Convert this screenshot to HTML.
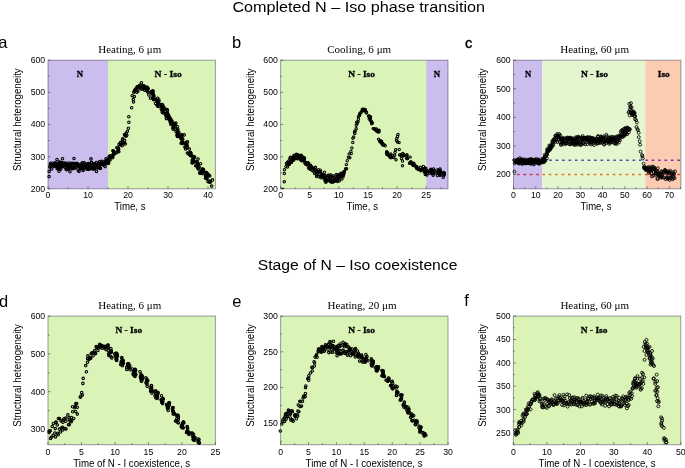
<!DOCTYPE html>
<html><head><meta charset="utf-8"><style>
html,body{margin:0;padding:0;background:#fff;overflow:hidden}
svg{display:block;will-change:transform}
text{fill:#000}
</style></head><body>
<svg width="685" height="468" viewBox="0 0 685 468">
<rect width="685" height="468" fill="#fff"/>
<text x="232.4" y="12.2" font-size="15.3" font-family="'Liberation Sans', sans-serif" textLength="252.6" lengthAdjust="spacingAndGlyphs">Completed N – Iso phase transition</text>
<text x="257.8" y="269.6" font-size="15.3" font-family="'Liberation Sans', sans-serif" textLength="199.6" lengthAdjust="spacingAndGlyphs">Stage of N – Iso coexistence</text>
<text x="-1.7" y="47.8" font-size="16.5" font-family="'Liberation Sans', sans-serif">a</text>
<text x="232" y="47.8" font-size="16.5" font-family="'Liberation Sans', sans-serif">b</text>
<text x="465" y="47.9" font-size="14.6" font-family="'Liberation Sans', sans-serif" stroke="#000" stroke-width="0.45">c</text>
<text x="-1" y="307" font-size="16.5" font-family="'Liberation Sans', sans-serif">d</text>
<text x="232.2" y="307" font-size="16.5" font-family="'Liberation Sans', sans-serif">e</text>
<text x="464.3" y="306.4" font-size="16.5" font-family="'Liberation Sans', sans-serif">f</text>
<rect x="48" y="60.2" width="60" height="128.6" fill="#cbbeee"/>
<rect x="108" y="60.2" width="107.4" height="128.6" fill="#daf4b8"/>
<path d="M48 188.8v-2.5M68 188.8v-1.5M88 188.8v-2.5M108 188.8v-1.5M128 188.8v-2.5M148 188.8v-1.5M168 188.8v-2.5M188 188.8v-1.5M208 188.8v-2.5M48 188.8h2.5M48 172.7h1.5M48 156.7h2.5M48 140.6h1.5M48 124.5h2.5M48 108.4h1.5M48 92.4h2.5M48 76.3h1.5M48 60.2h2.5" stroke="#555" stroke-width="0.7" fill="none"/>
<g fill="none" stroke="#000" stroke-width="1.1"><circle cx="57.0" cy="159.5" r="1.25"/><circle cx="62.5" cy="158.8" r="1.25"/><circle cx="74.0" cy="158.5" r="1.25"/><circle cx="70.0" cy="171.8" r="1.25"/><circle cx="59.0" cy="171.3" r="1.25"/><circle cx="79.0" cy="171.5" r="1.25"/><circle cx="96.5" cy="171.5" r="1.25"/><circle cx="91.0" cy="158.9" r="1.25"/><circle cx="49.1" cy="176.6" r="1.25"/><circle cx="49.2" cy="171.4" r="1.25"/><circle cx="51.6" cy="168.9" r="1.25"/><circle cx="51.1" cy="165.1" r="1.25"/><circle cx="50.0" cy="166.8" r="1.25"/><circle cx="49.9" cy="167.0" r="1.25"/><circle cx="50.3" cy="164.2" r="1.25"/><circle cx="50.7" cy="163.2" r="1.25"/><circle cx="52.1" cy="165.5" r="1.25"/><circle cx="52.5" cy="165.1" r="1.25"/><circle cx="52.4" cy="163.3" r="1.25"/><circle cx="54.3" cy="164.9" r="1.25"/><circle cx="54.4" cy="163.4" r="1.25"/><circle cx="53.9" cy="165.1" r="1.25"/><circle cx="54.2" cy="166.5" r="1.25"/><circle cx="55.3" cy="165.5" r="1.25"/><circle cx="56.8" cy="165.8" r="1.25"/><circle cx="55.1" cy="164.6" r="1.25"/><circle cx="56.1" cy="165.5" r="1.25"/><circle cx="57.1" cy="166.7" r="1.25"/><circle cx="55.5" cy="162.8" r="1.25"/><circle cx="55.7" cy="165.8" r="1.25"/><circle cx="57.8" cy="163.5" r="1.25"/><circle cx="57.6" cy="168.1" r="1.25"/><circle cx="57.2" cy="168.7" r="1.25"/><circle cx="57.2" cy="166.2" r="1.25"/><circle cx="59.4" cy="168.6" r="1.25"/><circle cx="58.5" cy="168.4" r="1.25"/><circle cx="57.4" cy="164.8" r="1.25"/><circle cx="60.0" cy="162.8" r="1.25"/><circle cx="59.8" cy="167.0" r="1.25"/><circle cx="59.4" cy="162.0" r="1.25"/><circle cx="60.1" cy="162.2" r="1.25"/><circle cx="59.8" cy="165.6" r="1.25"/><circle cx="62.6" cy="164.6" r="1.25"/><circle cx="60.9" cy="164.9" r="1.25"/><circle cx="60.8" cy="169.1" r="1.25"/><circle cx="60.3" cy="162.7" r="1.25"/><circle cx="60.6" cy="163.1" r="1.25"/><circle cx="62.9" cy="162.8" r="1.25"/><circle cx="61.7" cy="164.9" r="1.25"/><circle cx="61.4" cy="162.7" r="1.25"/><circle cx="63.7" cy="165.5" r="1.25"/><circle cx="62.3" cy="165.1" r="1.25"/><circle cx="62.0" cy="166.6" r="1.25"/><circle cx="63.7" cy="166.1" r="1.25"/><circle cx="63.2" cy="166.3" r="1.25"/><circle cx="64.4" cy="165.1" r="1.25"/><circle cx="63.5" cy="165.5" r="1.25"/><circle cx="66.0" cy="164.0" r="1.25"/><circle cx="65.1" cy="167.6" r="1.25"/><circle cx="65.3" cy="164.6" r="1.25"/><circle cx="65.2" cy="163.8" r="1.25"/><circle cx="65.3" cy="163.0" r="1.25"/><circle cx="68.0" cy="166.6" r="1.25"/><circle cx="66.3" cy="169.7" r="1.25"/><circle cx="67.2" cy="166.6" r="1.25"/><circle cx="68.0" cy="165.5" r="1.25"/><circle cx="66.8" cy="168.5" r="1.25"/><circle cx="67.7" cy="168.2" r="1.25"/><circle cx="68.1" cy="169.4" r="1.25"/><circle cx="68.5" cy="163.0" r="1.25"/><circle cx="70.3" cy="164.3" r="1.25"/><circle cx="68.9" cy="167.4" r="1.25"/><circle cx="70.7" cy="163.3" r="1.25"/><circle cx="70.8" cy="167.0" r="1.25"/><circle cx="69.9" cy="166.2" r="1.25"/><circle cx="71.6" cy="163.7" r="1.25"/><circle cx="72.9" cy="167.9" r="1.25"/><circle cx="69.6" cy="164.4" r="1.25"/><circle cx="71.6" cy="167.2" r="1.25"/><circle cx="69.8" cy="168.2" r="1.25"/><circle cx="72.0" cy="168.3" r="1.25"/><circle cx="71.1" cy="166.5" r="1.25"/><circle cx="71.2" cy="167.3" r="1.25"/><circle cx="73.6" cy="167.9" r="1.25"/><circle cx="72.5" cy="168.8" r="1.25"/><circle cx="73.0" cy="163.3" r="1.25"/><circle cx="76.2" cy="167.2" r="1.25"/><circle cx="74.4" cy="163.7" r="1.25"/><circle cx="74.3" cy="163.5" r="1.25"/><circle cx="75.1" cy="168.1" r="1.25"/><circle cx="75.4" cy="165.0" r="1.25"/><circle cx="73.7" cy="164.1" r="1.25"/><circle cx="75.5" cy="163.5" r="1.25"/><circle cx="75.1" cy="165.6" r="1.25"/><circle cx="76.8" cy="163.8" r="1.25"/><circle cx="77.0" cy="163.8" r="1.25"/><circle cx="77.5" cy="165.3" r="1.25"/><circle cx="76.9" cy="163.4" r="1.25"/><circle cx="77.7" cy="164.6" r="1.25"/><circle cx="79.9" cy="167.5" r="1.25"/><circle cx="79.3" cy="165.8" r="1.25"/><circle cx="79.1" cy="166.5" r="1.25"/><circle cx="78.1" cy="164.6" r="1.25"/><circle cx="80.6" cy="169.0" r="1.25"/><circle cx="81.3" cy="168.1" r="1.25"/><circle cx="78.2" cy="170.2" r="1.25"/><circle cx="81.3" cy="168.2" r="1.25"/><circle cx="80.9" cy="164.1" r="1.25"/><circle cx="81.1" cy="168.1" r="1.25"/><circle cx="81.3" cy="165.4" r="1.25"/><circle cx="83.2" cy="166.6" r="1.25"/><circle cx="81.6" cy="167.7" r="1.25"/><circle cx="83.1" cy="169.0" r="1.25"/><circle cx="82.3" cy="167.0" r="1.25"/><circle cx="82.6" cy="168.3" r="1.25"/><circle cx="82.4" cy="162.9" r="1.25"/><circle cx="85.0" cy="164.1" r="1.25"/><circle cx="83.2" cy="165.9" r="1.25"/><circle cx="83.1" cy="170.4" r="1.25"/><circle cx="84.2" cy="162.7" r="1.25"/><circle cx="85.1" cy="164.4" r="1.25"/><circle cx="86.3" cy="166.7" r="1.25"/><circle cx="86.9" cy="169.3" r="1.25"/><circle cx="87.6" cy="165.2" r="1.25"/><circle cx="84.6" cy="167.3" r="1.25"/><circle cx="87.3" cy="168.2" r="1.25"/><circle cx="86.1" cy="167.3" r="1.25"/><circle cx="87.2" cy="164.7" r="1.25"/><circle cx="87.2" cy="166.5" r="1.25"/><circle cx="88.1" cy="169.2" r="1.25"/><circle cx="87.9" cy="163.9" r="1.25"/><circle cx="86.2" cy="165.0" r="1.25"/><circle cx="89.2" cy="165.3" r="1.25"/><circle cx="88.4" cy="163.6" r="1.25"/><circle cx="91.4" cy="162.9" r="1.25"/><circle cx="88.3" cy="168.7" r="1.25"/><circle cx="88.6" cy="167.3" r="1.25"/><circle cx="91.2" cy="168.2" r="1.25"/><circle cx="89.9" cy="164.0" r="1.25"/><circle cx="90.3" cy="168.2" r="1.25"/><circle cx="89.6" cy="169.0" r="1.25"/><circle cx="91.5" cy="162.4" r="1.25"/><circle cx="90.8" cy="168.4" r="1.25"/><circle cx="91.6" cy="167.6" r="1.25"/><circle cx="91.0" cy="166.1" r="1.25"/><circle cx="93.0" cy="169.1" r="1.25"/><circle cx="93.5" cy="163.9" r="1.25"/><circle cx="92.9" cy="164.7" r="1.25"/><circle cx="93.3" cy="168.6" r="1.25"/><circle cx="94.0" cy="167.1" r="1.25"/><circle cx="95.1" cy="163.8" r="1.25"/><circle cx="94.8" cy="168.4" r="1.25"/><circle cx="94.3" cy="166.4" r="1.25"/><circle cx="94.2" cy="165.8" r="1.25"/><circle cx="94.1" cy="168.8" r="1.25"/><circle cx="94.2" cy="167.0" r="1.25"/><circle cx="95.0" cy="167.4" r="1.25"/><circle cx="97.8" cy="168.0" r="1.25"/><circle cx="96.4" cy="165.4" r="1.25"/><circle cx="96.8" cy="167.2" r="1.25"/><circle cx="96.2" cy="167.2" r="1.25"/><circle cx="98.5" cy="167.6" r="1.25"/><circle cx="96.2" cy="166.7" r="1.25"/><circle cx="96.4" cy="162.5" r="1.25"/><circle cx="99.6" cy="165.2" r="1.25"/><circle cx="98.1" cy="166.6" r="1.25"/><circle cx="98.3" cy="163.6" r="1.25"/><circle cx="98.7" cy="164.1" r="1.25"/><circle cx="98.5" cy="165.3" r="1.25"/><circle cx="99.7" cy="167.4" r="1.25"/><circle cx="100.5" cy="168.4" r="1.25"/><circle cx="99.7" cy="161.6" r="1.25"/><circle cx="99.7" cy="164.7" r="1.25"/><circle cx="100.4" cy="164.3" r="1.25"/><circle cx="103.0" cy="164.1" r="1.25"/><circle cx="100.9" cy="162.8" r="1.25"/><circle cx="102.0" cy="161.3" r="1.25"/><circle cx="104.0" cy="163.8" r="1.25"/><circle cx="102.0" cy="162.6" r="1.25"/><circle cx="103.2" cy="165.0" r="1.25"/><circle cx="102.4" cy="164.2" r="1.25"/><circle cx="105.1" cy="166.6" r="1.25"/><circle cx="103.4" cy="162.2" r="1.25"/><circle cx="103.7" cy="164.7" r="1.25"/><circle cx="105.4" cy="161.5" r="1.25"/><circle cx="104.9" cy="162.7" r="1.25"/><circle cx="105.2" cy="164.0" r="1.25"/><circle cx="105.7" cy="162.0" r="1.25"/><circle cx="104.7" cy="162.5" r="1.25"/><circle cx="104.3" cy="163.5" r="1.25"/><circle cx="106.5" cy="160.1" r="1.25"/><circle cx="106.0" cy="158.8" r="1.25"/><circle cx="107.4" cy="161.9" r="1.25"/><circle cx="107.8" cy="160.0" r="1.25"/><circle cx="108.5" cy="162.5" r="1.25"/><circle cx="108.6" cy="163.2" r="1.25"/><circle cx="108.0" cy="163.2" r="1.25"/><circle cx="109.4" cy="159.6" r="1.25"/><circle cx="109.9" cy="157.4" r="1.25"/><circle cx="110.0" cy="155.9" r="1.25"/><circle cx="110.0" cy="160.0" r="1.25"/><circle cx="109.0" cy="156.9" r="1.25"/><circle cx="112.2" cy="156.8" r="1.25"/><circle cx="113.1" cy="154.3" r="1.25"/><circle cx="111.5" cy="156.5" r="1.25"/><circle cx="112.6" cy="157.7" r="1.25"/><circle cx="113.5" cy="151.1" r="1.25"/><circle cx="113.7" cy="153.3" r="1.25"/><circle cx="113.8" cy="152.1" r="1.25"/><circle cx="112.8" cy="156.4" r="1.25"/><circle cx="114.2" cy="153.8" r="1.25"/><circle cx="114.3" cy="154.0" r="1.25"/><circle cx="112.9" cy="150.7" r="1.25"/><circle cx="116.0" cy="153.0" r="1.25"/><circle cx="116.8" cy="147.8" r="1.25"/><circle cx="117.0" cy="152.1" r="1.25"/><circle cx="118.1" cy="148.4" r="1.25"/><circle cx="118.2" cy="148.0" r="1.25"/><circle cx="118.8" cy="151.8" r="1.25"/><circle cx="118.3" cy="150.6" r="1.25"/><circle cx="118.7" cy="149.1" r="1.25"/><circle cx="119.0" cy="144.4" r="1.25"/><circle cx="120.7" cy="144.0" r="1.25"/><circle cx="120.5" cy="144.9" r="1.25"/><circle cx="121.6" cy="144.2" r="1.25"/><circle cx="120.6" cy="142.4" r="1.25"/><circle cx="122.6" cy="139.9" r="1.25"/><circle cx="122.2" cy="145.7" r="1.25"/><circle cx="122.8" cy="143.1" r="1.25"/><circle cx="122.7" cy="138.9" r="1.25"/><circle cx="124.4" cy="142.8" r="1.25"/><circle cx="125.2" cy="143.9" r="1.25"/><circle cx="124.6" cy="140.3" r="1.25"/><circle cx="124.9" cy="135.5" r="1.25"/><circle cx="126.0" cy="136.3" r="1.25"/><circle cx="124.6" cy="134.6" r="1.25"/><circle cx="126.4" cy="133.1" r="1.25"/><circle cx="126.8" cy="135.2" r="1.25"/><circle cx="127.4" cy="131.3" r="1.25"/><circle cx="128.4" cy="128.3" r="1.25"/><circle cx="128.9" cy="122.2" r="1.25"/><circle cx="128.8" cy="116.8" r="1.25"/><circle cx="131.6" cy="107.7" r="1.25"/><circle cx="133.5" cy="101.9" r="1.25"/><circle cx="133.3" cy="99.6" r="1.25"/><circle cx="132.2" cy="95.8" r="1.25"/><circle cx="133.8" cy="92.3" r="1.25"/><circle cx="134.3" cy="96.6" r="1.25"/><circle cx="134.8" cy="91.1" r="1.25"/><circle cx="135.0" cy="90.3" r="1.25"/><circle cx="134.4" cy="91.0" r="1.25"/><circle cx="136.7" cy="89.9" r="1.25"/><circle cx="137.9" cy="91.3" r="1.25"/><circle cx="135.4" cy="89.0" r="1.25"/><circle cx="136.8" cy="92.3" r="1.25"/><circle cx="135.6" cy="90.4" r="1.25"/><circle cx="137.2" cy="86.7" r="1.25"/><circle cx="137.3" cy="87.0" r="1.25"/><circle cx="140.1" cy="88.1" r="1.25"/><circle cx="139.4" cy="86.0" r="1.25"/><circle cx="139.0" cy="86.1" r="1.25"/><circle cx="139.6" cy="86.8" r="1.25"/><circle cx="138.8" cy="87.2" r="1.25"/><circle cx="140.2" cy="85.0" r="1.25"/><circle cx="141.4" cy="88.9" r="1.25"/><circle cx="142.0" cy="86.2" r="1.25"/><circle cx="143.0" cy="87.2" r="1.25"/><circle cx="141.4" cy="82.7" r="1.25"/><circle cx="141.6" cy="89.0" r="1.25"/><circle cx="143.3" cy="86.0" r="1.25"/><circle cx="143.8" cy="85.7" r="1.25"/><circle cx="144.0" cy="86.3" r="1.25"/><circle cx="143.5" cy="88.1" r="1.25"/><circle cx="144.6" cy="90.3" r="1.25"/><circle cx="144.5" cy="86.8" r="1.25"/><circle cx="144.1" cy="87.5" r="1.25"/><circle cx="144.8" cy="87.7" r="1.25"/><circle cx="143.8" cy="88.6" r="1.25"/><circle cx="146.5" cy="87.3" r="1.25"/><circle cx="146.6" cy="90.6" r="1.25"/><circle cx="147.3" cy="87.2" r="1.25"/><circle cx="147.3" cy="89.5" r="1.25"/><circle cx="146.2" cy="89.7" r="1.25"/><circle cx="146.5" cy="87.8" r="1.25"/><circle cx="147.7" cy="89.6" r="1.25"/><circle cx="147.2" cy="90.0" r="1.25"/><circle cx="147.9" cy="92.1" r="1.25"/><circle cx="147.0" cy="88.1" r="1.25"/><circle cx="148.9" cy="95.0" r="1.25"/><circle cx="148.2" cy="88.5" r="1.25"/><circle cx="147.8" cy="91.5" r="1.25"/><circle cx="151.7" cy="91.5" r="1.25"/><circle cx="150.4" cy="98.1" r="1.25"/><circle cx="152.8" cy="90.8" r="1.25"/><circle cx="153.0" cy="91.2" r="1.25"/><circle cx="151.6" cy="92.4" r="1.25"/><circle cx="153.7" cy="96.2" r="1.25"/><circle cx="152.0" cy="93.9" r="1.25"/><circle cx="153.5" cy="99.6" r="1.25"/><circle cx="153.1" cy="94.3" r="1.25"/><circle cx="151.1" cy="92.3" r="1.25"/><circle cx="153.1" cy="93.3" r="1.25"/><circle cx="153.9" cy="95.8" r="1.25"/><circle cx="155.2" cy="99.4" r="1.25"/><circle cx="153.4" cy="97.0" r="1.25"/><circle cx="153.2" cy="98.2" r="1.25"/><circle cx="153.0" cy="97.9" r="1.25"/><circle cx="153.6" cy="99.5" r="1.25"/><circle cx="153.6" cy="98.0" r="1.25"/><circle cx="156.8" cy="100.0" r="1.25"/><circle cx="157.3" cy="105.4" r="1.25"/><circle cx="159.5" cy="104.5" r="1.25"/><circle cx="158.0" cy="101.8" r="1.25"/><circle cx="158.9" cy="100.0" r="1.25"/><circle cx="157.4" cy="105.2" r="1.25"/><circle cx="156.9" cy="100.7" r="1.25"/><circle cx="157.7" cy="98.2" r="1.25"/><circle cx="155.6" cy="103.4" r="1.25"/><circle cx="158.0" cy="103.2" r="1.25"/><circle cx="157.5" cy="106.1" r="1.25"/><circle cx="159.2" cy="104.5" r="1.25"/><circle cx="157.5" cy="101.1" r="1.25"/><circle cx="158.1" cy="104.2" r="1.25"/><circle cx="159.2" cy="106.6" r="1.25"/><circle cx="158.8" cy="101.8" r="1.25"/><circle cx="162.1" cy="104.5" r="1.25"/><circle cx="161.4" cy="106.2" r="1.25"/><circle cx="161.4" cy="109.6" r="1.25"/><circle cx="162.3" cy="112.4" r="1.25"/><circle cx="162.7" cy="110.0" r="1.25"/><circle cx="163.0" cy="107.3" r="1.25"/><circle cx="164.0" cy="107.8" r="1.25"/><circle cx="163.1" cy="111.1" r="1.25"/><circle cx="162.4" cy="107.2" r="1.25"/><circle cx="162.5" cy="107.3" r="1.25"/><circle cx="163.3" cy="112.9" r="1.25"/><circle cx="162.5" cy="111.2" r="1.25"/><circle cx="161.9" cy="104.5" r="1.25"/><circle cx="162.9" cy="109.4" r="1.25"/><circle cx="164.0" cy="109.6" r="1.25"/><circle cx="163.1" cy="105.9" r="1.25"/><circle cx="167.3" cy="109.8" r="1.25"/><circle cx="166.2" cy="109.3" r="1.25"/><circle cx="167.5" cy="113.1" r="1.25"/><circle cx="165.7" cy="115.2" r="1.25"/><circle cx="166.2" cy="113.6" r="1.25"/><circle cx="168.5" cy="115.1" r="1.25"/><circle cx="166.4" cy="113.1" r="1.25"/><circle cx="166.9" cy="114.1" r="1.25"/><circle cx="166.7" cy="118.7" r="1.25"/><circle cx="166.3" cy="118.1" r="1.25"/><circle cx="167.4" cy="110.6" r="1.25"/><circle cx="166.2" cy="114.6" r="1.25"/><circle cx="168.9" cy="118.0" r="1.25"/><circle cx="168.8" cy="116.0" r="1.25"/><circle cx="170.2" cy="120.3" r="1.25"/><circle cx="170.6" cy="118.9" r="1.25"/><circle cx="171.0" cy="122.8" r="1.25"/><circle cx="170.5" cy="122.6" r="1.25"/><circle cx="170.3" cy="119.0" r="1.25"/><circle cx="169.9" cy="120.3" r="1.25"/><circle cx="170.9" cy="124.5" r="1.25"/><circle cx="169.8" cy="118.3" r="1.25"/><circle cx="172.0" cy="121.7" r="1.25"/><circle cx="172.0" cy="124.3" r="1.25"/><circle cx="170.1" cy="121.2" r="1.25"/><circle cx="169.0" cy="116.6" r="1.25"/><circle cx="171.8" cy="120.9" r="1.25"/><circle cx="173.2" cy="129.3" r="1.25"/><circle cx="173.7" cy="126.3" r="1.25"/><circle cx="172.9" cy="127.9" r="1.25"/><circle cx="173.5" cy="127.1" r="1.25"/><circle cx="174.9" cy="124.1" r="1.25"/><circle cx="175.9" cy="123.0" r="1.25"/><circle cx="174.2" cy="123.5" r="1.25"/><circle cx="174.1" cy="127.6" r="1.25"/><circle cx="175.4" cy="124.5" r="1.25"/><circle cx="177.5" cy="126.8" r="1.25"/><circle cx="177.8" cy="129.3" r="1.25"/><circle cx="175.6" cy="129.3" r="1.25"/><circle cx="177.2" cy="134.9" r="1.25"/><circle cx="177.1" cy="130.2" r="1.25"/><circle cx="177.5" cy="136.5" r="1.25"/><circle cx="178.8" cy="132.3" r="1.25"/><circle cx="178.2" cy="133.3" r="1.25"/><circle cx="177.6" cy="130.7" r="1.25"/><circle cx="179.4" cy="136.2" r="1.25"/><circle cx="177.6" cy="133.3" r="1.25"/><circle cx="177.5" cy="133.9" r="1.25"/><circle cx="176.0" cy="131.5" r="1.25"/><circle cx="178.3" cy="136.4" r="1.25"/><circle cx="177.1" cy="135.5" r="1.25"/><circle cx="181.8" cy="135.1" r="1.25"/><circle cx="182.6" cy="142.9" r="1.25"/><circle cx="181.8" cy="135.9" r="1.25"/><circle cx="181.1" cy="143.2" r="1.25"/><circle cx="180.9" cy="136.1" r="1.25"/><circle cx="184.2" cy="134.9" r="1.25"/><circle cx="181.1" cy="138.6" r="1.25"/><circle cx="182.5" cy="141.8" r="1.25"/><circle cx="181.3" cy="139.0" r="1.25"/><circle cx="182.8" cy="139.2" r="1.25"/><circle cx="182.0" cy="138.4" r="1.25"/><circle cx="181.8" cy="142.4" r="1.25"/><circle cx="181.4" cy="134.9" r="1.25"/><circle cx="182.3" cy="143.6" r="1.25"/><circle cx="181.9" cy="138.5" r="1.25"/><circle cx="185.6" cy="148.9" r="1.25"/><circle cx="184.9" cy="147.1" r="1.25"/><circle cx="186.5" cy="146.8" r="1.25"/><circle cx="186.9" cy="145.1" r="1.25"/><circle cx="187.4" cy="142.3" r="1.25"/><circle cx="187.0" cy="146.4" r="1.25"/><circle cx="185.7" cy="142.6" r="1.25"/><circle cx="185.4" cy="143.5" r="1.25"/><circle cx="187.4" cy="141.7" r="1.25"/><circle cx="185.7" cy="147.5" r="1.25"/><circle cx="187.2" cy="146.3" r="1.25"/><circle cx="186.7" cy="148.0" r="1.25"/><circle cx="185.4" cy="143.9" r="1.25"/><circle cx="189.3" cy="149.1" r="1.25"/><circle cx="190.4" cy="155.2" r="1.25"/><circle cx="188.9" cy="153.1" r="1.25"/><circle cx="190.5" cy="155.4" r="1.25"/><circle cx="190.8" cy="153.1" r="1.25"/><circle cx="189.4" cy="154.8" r="1.25"/><circle cx="190.5" cy="152.4" r="1.25"/><circle cx="191.2" cy="155.0" r="1.25"/><circle cx="190.7" cy="153.4" r="1.25"/><circle cx="187.4" cy="153.1" r="1.25"/><circle cx="191.6" cy="156.1" r="1.25"/><circle cx="192.2" cy="162.9" r="1.25"/><circle cx="192.3" cy="159.7" r="1.25"/><circle cx="193.3" cy="159.7" r="1.25"/><circle cx="192.4" cy="162.8" r="1.25"/><circle cx="193.8" cy="160.6" r="1.25"/><circle cx="193.0" cy="161.6" r="1.25"/><circle cx="194.6" cy="157.0" r="1.25"/><circle cx="194.0" cy="157.7" r="1.25"/><circle cx="193.7" cy="161.6" r="1.25"/><circle cx="194.0" cy="162.0" r="1.25"/><circle cx="194.0" cy="161.5" r="1.25"/><circle cx="193.8" cy="156.5" r="1.25"/><circle cx="192.3" cy="161.4" r="1.25"/><circle cx="197.9" cy="166.2" r="1.25"/><circle cx="197.8" cy="167.8" r="1.25"/><circle cx="197.0" cy="162.2" r="1.25"/><circle cx="196.9" cy="161.9" r="1.25"/><circle cx="197.3" cy="166.8" r="1.25"/><circle cx="198.0" cy="164.7" r="1.25"/><circle cx="195.7" cy="165.7" r="1.25"/><circle cx="198.0" cy="159.1" r="1.25"/><circle cx="196.7" cy="165.8" r="1.25"/><circle cx="197.8" cy="167.9" r="1.25"/><circle cx="199.0" cy="166.8" r="1.25"/><circle cx="197.5" cy="163.4" r="1.25"/><circle cx="200.5" cy="163.8" r="1.25"/><circle cx="198.4" cy="169.1" r="1.25"/><circle cx="199.9" cy="173.2" r="1.25"/><circle cx="202.1" cy="170.3" r="1.25"/><circle cx="200.6" cy="172.9" r="1.25"/><circle cx="200.7" cy="172.5" r="1.25"/><circle cx="201.0" cy="173.0" r="1.25"/><circle cx="200.0" cy="172.5" r="1.25"/><circle cx="203.7" cy="171.6" r="1.25"/><circle cx="202.7" cy="170.0" r="1.25"/><circle cx="203.6" cy="169.8" r="1.25"/><circle cx="200.6" cy="172.9" r="1.25"/><circle cx="200.7" cy="169.1" r="1.25"/><circle cx="202.7" cy="169.3" r="1.25"/><circle cx="202.8" cy="169.0" r="1.25"/><circle cx="202.7" cy="173.8" r="1.25"/><circle cx="202.1" cy="170.3" r="1.25"/><circle cx="200.3" cy="173.0" r="1.25"/><circle cx="203.5" cy="171.0" r="1.25"/><circle cx="202.8" cy="171.1" r="1.25"/><circle cx="205.5" cy="178.2" r="1.25"/><circle cx="207.1" cy="178.4" r="1.25"/><circle cx="207.9" cy="181.6" r="1.25"/><circle cx="206.5" cy="172.6" r="1.25"/><circle cx="204.4" cy="172.9" r="1.25"/><circle cx="205.7" cy="176.5" r="1.25"/><circle cx="208.7" cy="175.3" r="1.25"/><circle cx="208.1" cy="174.8" r="1.25"/><circle cx="207.9" cy="175.2" r="1.25"/><circle cx="205.7" cy="175.2" r="1.25"/><circle cx="206.4" cy="177.6" r="1.25"/><circle cx="206.1" cy="175.0" r="1.25"/><circle cx="209.7" cy="175.9" r="1.25"/><circle cx="208.1" cy="175.0" r="1.25"/><circle cx="207.8" cy="174.0" r="1.25"/><circle cx="207.0" cy="173.5" r="1.25"/><circle cx="210.1" cy="181.8" r="1.25"/><circle cx="209.7" cy="181.0" r="1.25"/><circle cx="209.3" cy="182.1" r="1.25"/><circle cx="211.6" cy="186.1" r="1.25"/><circle cx="210.6" cy="182.0" r="1.25"/><circle cx="212.5" cy="179.9" r="1.25"/></g>
<rect x="48" y="60.2" width="167.4" height="128.6" fill="none" stroke="rgba(40,36,60,0.45)" stroke-width="1.0"/>
<text x="48" y="198.2" font-size="8.7" font-family="'Liberation Sans', sans-serif" text-anchor="middle">0</text>
<text x="88" y="198.2" font-size="8.7" font-family="'Liberation Sans', sans-serif" text-anchor="middle">10</text>
<text x="128" y="198.2" font-size="8.7" font-family="'Liberation Sans', sans-serif" text-anchor="middle">20</text>
<text x="168" y="198.2" font-size="8.7" font-family="'Liberation Sans', sans-serif" text-anchor="middle">30</text>
<text x="208" y="198.2" font-size="8.7" font-family="'Liberation Sans', sans-serif" text-anchor="middle">40</text>
<text x="45.2" y="191.7" font-size="8.7" font-family="'Liberation Sans', sans-serif" text-anchor="end">200</text>
<text x="45.2" y="159.5" font-size="8.7" font-family="'Liberation Sans', sans-serif" text-anchor="end">300</text>
<text x="45.2" y="127.4" font-size="8.7" font-family="'Liberation Sans', sans-serif" text-anchor="end">400</text>
<text x="45.2" y="95.2" font-size="8.7" font-family="'Liberation Sans', sans-serif" text-anchor="end">500</text>
<text x="45.2" y="63.1" font-size="8.7" font-family="'Liberation Sans', sans-serif" text-anchor="end">600</text>
<text x="98.2" y="53.2" font-size="11" font-family="'Liberation Serif', serif" textLength="63.0" lengthAdjust="spacingAndGlyphs">Heating, 6 μm</text>
<text x="76.8" y="77.2" font-size="9.1" font-family="'Liberation Serif', serif" font-weight="bold" textLength="6.3" lengthAdjust="spacingAndGlyphs" stroke="#000" stroke-width="0.3">N</text>
<text x="154.6" y="77.2" font-size="9.1" font-family="'Liberation Serif', serif" font-weight="bold" textLength="27.2" lengthAdjust="spacingAndGlyphs" stroke="#000" stroke-width="0.3">N - Iso</text>
<text x="114.2" y="210" font-size="10.0" font-family="'Liberation Sans', sans-serif" textLength="31.4" lengthAdjust="spacingAndGlyphs">Time, s</text>
<text transform="translate(20.9,119.6) rotate(-90)" x="0" y="0" font-size="10.2" font-family="'Liberation Sans', sans-serif" text-anchor="middle" textLength="102.6" lengthAdjust="spacingAndGlyphs">Structural heterogeneity</text>
<rect x="280.6" y="60.2" width="145.6" height="128.6" fill="#daf4b8"/>
<rect x="426.2" y="60.2" width="21.8" height="128.6" fill="#cbbeee"/>
<path d="M280.6 188.8v-2.5M295.2 188.8v-1.5M309.7 188.8v-2.5M324.3 188.8v-1.5M338.8 188.8v-2.5M353.4 188.8v-1.5M368 188.8v-2.5M382.5 188.8v-1.5M397.1 188.8v-2.5M411.7 188.8v-1.5M426.2 188.8v-2.5M440.8 188.8v-1.5M280.6 188.8h2.5M280.6 172.7h1.5M280.6 156.7h2.5M280.6 140.6h1.5M280.6 124.5h2.5M280.6 108.4h1.5M280.6 92.4h2.5M280.6 76.3h1.5M280.6 60.2h2.5" stroke="#555" stroke-width="0.7" fill="none"/>
<g fill="none" stroke="#000" stroke-width="1.05"><circle cx="284.3" cy="181.8" r="1.2"/><circle cx="284.3" cy="173.5" r="1.2"/><circle cx="284.5" cy="169.8" r="1.2"/><circle cx="286.0" cy="166.5" r="1.2"/><circle cx="287.5" cy="167.0" r="1.2"/><circle cx="286.4" cy="163.4" r="1.2"/><circle cx="287.4" cy="162.3" r="1.2"/><circle cx="287.8" cy="163.4" r="1.2"/><circle cx="288.5" cy="164.0" r="1.2"/><circle cx="288.8" cy="161.0" r="1.2"/><circle cx="289.4" cy="164.4" r="1.2"/><circle cx="290.1" cy="157.9" r="1.2"/><circle cx="289.8" cy="161.8" r="1.2"/><circle cx="290.0" cy="159.2" r="1.2"/><circle cx="290.5" cy="157.3" r="1.2"/><circle cx="290.9" cy="161.5" r="1.2"/><circle cx="291.5" cy="162.4" r="1.2"/><circle cx="292.2" cy="159.7" r="1.2"/><circle cx="293.0" cy="157.1" r="1.2"/><circle cx="292.9" cy="158.6" r="1.2"/><circle cx="293.1" cy="160.4" r="1.2"/><circle cx="292.5" cy="159.6" r="1.2"/><circle cx="293.1" cy="157.0" r="1.2"/><circle cx="292.9" cy="160.5" r="1.2"/><circle cx="294.1" cy="155.1" r="1.2"/><circle cx="294.3" cy="157.6" r="1.2"/><circle cx="294.7" cy="158.6" r="1.2"/><circle cx="295.1" cy="157.1" r="1.2"/><circle cx="295.6" cy="156.5" r="1.2"/><circle cx="295.9" cy="155.0" r="1.2"/><circle cx="295.7" cy="157.7" r="1.2"/><circle cx="295.6" cy="158.8" r="1.2"/><circle cx="296.5" cy="154.1" r="1.2"/><circle cx="296.6" cy="158.3" r="1.2"/><circle cx="297.5" cy="155.1" r="1.2"/><circle cx="297.8" cy="154.8" r="1.2"/><circle cx="297.6" cy="158.7" r="1.2"/><circle cx="298.3" cy="155.4" r="1.2"/><circle cx="298.1" cy="156.7" r="1.2"/><circle cx="299.2" cy="157.4" r="1.2"/><circle cx="298.2" cy="157.0" r="1.2"/><circle cx="299.3" cy="156.2" r="1.2"/><circle cx="299.3" cy="157.3" r="1.2"/><circle cx="300.0" cy="159.2" r="1.2"/><circle cx="300.4" cy="158.7" r="1.2"/><circle cx="301.1" cy="159.1" r="1.2"/><circle cx="300.9" cy="155.4" r="1.2"/><circle cx="300.9" cy="155.6" r="1.2"/><circle cx="301.1" cy="155.3" r="1.2"/><circle cx="300.8" cy="159.9" r="1.2"/><circle cx="301.8" cy="160.9" r="1.2"/><circle cx="301.6" cy="158.3" r="1.2"/><circle cx="302.1" cy="159.9" r="1.2"/><circle cx="302.6" cy="159.7" r="1.2"/><circle cx="303.4" cy="160.3" r="1.2"/><circle cx="302.9" cy="156.9" r="1.2"/><circle cx="303.3" cy="158.3" r="1.2"/><circle cx="304.0" cy="160.0" r="1.2"/><circle cx="304.3" cy="159.9" r="1.2"/><circle cx="304.3" cy="157.7" r="1.2"/><circle cx="304.5" cy="158.9" r="1.2"/><circle cx="304.8" cy="162.5" r="1.2"/><circle cx="305.3" cy="163.9" r="1.2"/><circle cx="305.5" cy="163.1" r="1.2"/><circle cx="306.0" cy="163.5" r="1.2"/><circle cx="306.4" cy="164.4" r="1.2"/><circle cx="307.7" cy="164.5" r="1.2"/><circle cx="307.3" cy="162.8" r="1.2"/><circle cx="307.5" cy="162.7" r="1.2"/><circle cx="307.0" cy="162.8" r="1.2"/><circle cx="308.0" cy="166.0" r="1.2"/><circle cx="308.7" cy="163.1" r="1.2"/><circle cx="309.0" cy="168.2" r="1.2"/><circle cx="309.0" cy="168.5" r="1.2"/><circle cx="310.1" cy="168.2" r="1.2"/><circle cx="310.3" cy="169.3" r="1.2"/><circle cx="309.7" cy="166.6" r="1.2"/><circle cx="310.5" cy="165.3" r="1.2"/><circle cx="311.1" cy="166.8" r="1.2"/><circle cx="310.8" cy="166.3" r="1.2"/><circle cx="311.3" cy="166.6" r="1.2"/><circle cx="312.1" cy="170.6" r="1.2"/><circle cx="312.0" cy="168.5" r="1.2"/><circle cx="312.9" cy="168.8" r="1.2"/><circle cx="312.9" cy="168.3" r="1.2"/><circle cx="313.9" cy="169.4" r="1.2"/><circle cx="313.9" cy="171.8" r="1.2"/><circle cx="314.1" cy="168.2" r="1.2"/><circle cx="314.6" cy="173.6" r="1.2"/><circle cx="315.2" cy="169.8" r="1.2"/><circle cx="315.4" cy="167.3" r="1.2"/><circle cx="315.5" cy="170.0" r="1.2"/><circle cx="316.0" cy="172.2" r="1.2"/><circle cx="316.0" cy="172.2" r="1.2"/><circle cx="316.9" cy="174.7" r="1.2"/><circle cx="316.6" cy="176.6" r="1.2"/><circle cx="317.0" cy="175.1" r="1.2"/><circle cx="317.3" cy="171.3" r="1.2"/><circle cx="317.7" cy="172.1" r="1.2"/><circle cx="318.8" cy="176.7" r="1.2"/><circle cx="318.4" cy="169.7" r="1.2"/><circle cx="318.5" cy="171.4" r="1.2"/><circle cx="320.3" cy="170.2" r="1.2"/><circle cx="320.1" cy="171.7" r="1.2"/><circle cx="319.6" cy="172.7" r="1.2"/><circle cx="320.3" cy="176.3" r="1.2"/><circle cx="320.9" cy="172.7" r="1.2"/><circle cx="320.9" cy="177.7" r="1.2"/><circle cx="322.0" cy="175.4" r="1.2"/><circle cx="322.0" cy="174.6" r="1.2"/><circle cx="322.6" cy="175.5" r="1.2"/><circle cx="322.9" cy="176.5" r="1.2"/><circle cx="323.2" cy="177.9" r="1.2"/><circle cx="322.6" cy="176.9" r="1.2"/><circle cx="323.3" cy="175.0" r="1.2"/><circle cx="324.1" cy="175.4" r="1.2"/><circle cx="324.4" cy="172.2" r="1.2"/><circle cx="325.2" cy="175.6" r="1.2"/><circle cx="324.8" cy="178.5" r="1.2"/><circle cx="325.4" cy="180.5" r="1.2"/><circle cx="325.0" cy="180.7" r="1.2"/><circle cx="325.8" cy="178.1" r="1.2"/><circle cx="326.1" cy="178.8" r="1.2"/><circle cx="325.8" cy="182.2" r="1.2"/><circle cx="326.3" cy="181.2" r="1.2"/><circle cx="326.9" cy="180.7" r="1.2"/><circle cx="326.4" cy="180.1" r="1.2"/><circle cx="327.4" cy="179.6" r="1.2"/><circle cx="328.0" cy="175.9" r="1.2"/><circle cx="327.6" cy="177.4" r="1.2"/><circle cx="328.0" cy="175.3" r="1.2"/><circle cx="329.1" cy="175.3" r="1.2"/><circle cx="328.6" cy="179.2" r="1.2"/><circle cx="329.8" cy="181.3" r="1.2"/><circle cx="330.0" cy="178.2" r="1.2"/><circle cx="330.1" cy="176.8" r="1.2"/><circle cx="330.7" cy="176.5" r="1.2"/><circle cx="330.5" cy="180.8" r="1.2"/><circle cx="330.8" cy="174.9" r="1.2"/><circle cx="330.7" cy="181.5" r="1.2"/><circle cx="332.4" cy="178.2" r="1.2"/><circle cx="331.4" cy="182.1" r="1.2"/><circle cx="332.8" cy="182.2" r="1.2"/><circle cx="332.5" cy="178.0" r="1.2"/><circle cx="332.6" cy="178.5" r="1.2"/><circle cx="333.2" cy="175.6" r="1.2"/><circle cx="333.9" cy="177.2" r="1.2"/><circle cx="334.2" cy="177.3" r="1.2"/><circle cx="333.9" cy="181.2" r="1.2"/><circle cx="334.3" cy="180.2" r="1.2"/><circle cx="334.5" cy="180.6" r="1.2"/><circle cx="334.5" cy="181.4" r="1.2"/><circle cx="335.0" cy="179.7" r="1.2"/><circle cx="336.3" cy="178.3" r="1.2"/><circle cx="335.8" cy="180.1" r="1.2"/><circle cx="336.1" cy="180.5" r="1.2"/><circle cx="337.0" cy="179.4" r="1.2"/><circle cx="336.4" cy="174.4" r="1.2"/><circle cx="337.8" cy="174.9" r="1.2"/><circle cx="337.7" cy="176.6" r="1.2"/><circle cx="337.5" cy="181.6" r="1.2"/><circle cx="337.9" cy="180.2" r="1.2"/><circle cx="338.1" cy="176.1" r="1.2"/><circle cx="339.2" cy="178.0" r="1.2"/><circle cx="338.7" cy="175.0" r="1.2"/><circle cx="339.1" cy="175.6" r="1.2"/><circle cx="339.5" cy="180.8" r="1.2"/><circle cx="339.7" cy="177.9" r="1.2"/><circle cx="340.2" cy="176.6" r="1.2"/><circle cx="340.9" cy="173.3" r="1.2"/><circle cx="341.3" cy="176.0" r="1.2"/><circle cx="340.6" cy="176.7" r="1.2"/><circle cx="340.7" cy="176.5" r="1.2"/><circle cx="341.2" cy="173.6" r="1.2"/><circle cx="341.9" cy="179.0" r="1.2"/><circle cx="342.1" cy="174.7" r="1.2"/><circle cx="343.3" cy="175.4" r="1.2"/><circle cx="342.9" cy="176.9" r="1.2"/><circle cx="344.0" cy="173.6" r="1.2"/><circle cx="343.6" cy="174.5" r="1.2"/><circle cx="344.1" cy="171.8" r="1.2"/><circle cx="343.6" cy="172.4" r="1.2"/><circle cx="344.5" cy="171.1" r="1.2"/><circle cx="345.7" cy="168.8" r="1.2"/><circle cx="346.6" cy="168.7" r="1.2"/><circle cx="346.4" cy="164.6" r="1.2"/><circle cx="347.2" cy="160.7" r="1.2"/><circle cx="348.4" cy="157.2" r="1.2"/><circle cx="349.8" cy="157.8" r="1.2"/><circle cx="349.2" cy="153.9" r="1.2"/><circle cx="351.2" cy="153.6" r="1.2"/><circle cx="350.9" cy="151.5" r="1.2"/><circle cx="351.9" cy="148.0" r="1.2"/><circle cx="352.8" cy="142.5" r="1.2"/><circle cx="352.9" cy="138.2" r="1.2"/><circle cx="353.7" cy="136.9" r="1.2"/><circle cx="354.8" cy="133.4" r="1.2"/><circle cx="354.5" cy="131.9" r="1.2"/><circle cx="355.2" cy="131.0" r="1.2"/><circle cx="356.2" cy="128.8" r="1.2"/><circle cx="356.3" cy="125.3" r="1.2"/><circle cx="356.7" cy="122.1" r="1.2"/><circle cx="357.1" cy="123.7" r="1.2"/><circle cx="358.0" cy="121.8" r="1.2"/><circle cx="358.4" cy="119.2" r="1.2"/><circle cx="358.4" cy="116.6" r="1.2"/><circle cx="359.5" cy="114.8" r="1.2"/><circle cx="359.6" cy="115.6" r="1.2"/><circle cx="360.0" cy="113.1" r="1.2"/><circle cx="360.9" cy="112.8" r="1.2"/><circle cx="362.2" cy="110.5" r="1.2"/><circle cx="362.4" cy="109.2" r="1.2"/><circle cx="362.2" cy="110.8" r="1.2"/><circle cx="363.8" cy="109.1" r="1.2"/><circle cx="363.3" cy="110.7" r="1.2"/><circle cx="363.7" cy="110.2" r="1.2"/><circle cx="364.9" cy="109.4" r="1.2"/><circle cx="364.9" cy="110.4" r="1.2"/><circle cx="365.2" cy="109.6" r="1.2"/><circle cx="365.3" cy="111.0" r="1.2"/><circle cx="366.6" cy="112.1" r="1.2"/><circle cx="366.3" cy="112.9" r="1.2"/><circle cx="368.6" cy="116.2" r="1.2"/><circle cx="369.1" cy="116.2" r="1.2"/><circle cx="369.0" cy="116.0" r="1.2"/><circle cx="369.7" cy="117.9" r="1.2"/><circle cx="369.3" cy="119.2" r="1.2"/><circle cx="370.5" cy="116.8" r="1.2"/><circle cx="370.4" cy="118.5" r="1.2"/><circle cx="371.5" cy="122.0" r="1.2"/><circle cx="370.7" cy="120.8" r="1.2"/><circle cx="371.3" cy="121.6" r="1.2"/><circle cx="372.4" cy="122.9" r="1.2"/><circle cx="371.6" cy="123.7" r="1.2"/><circle cx="373.2" cy="128.6" r="1.2"/><circle cx="375.2" cy="129.3" r="1.2"/><circle cx="374.0" cy="128.6" r="1.2"/><circle cx="374.8" cy="129.5" r="1.2"/><circle cx="376.4" cy="128.9" r="1.2"/><circle cx="376.3" cy="130.7" r="1.2"/><circle cx="376.8" cy="131.0" r="1.2"/><circle cx="378.0" cy="131.4" r="1.2"/><circle cx="377.9" cy="131.8" r="1.2"/><circle cx="379.0" cy="130.3" r="1.2"/><circle cx="379.0" cy="131.9" r="1.2"/><circle cx="378.3" cy="131.8" r="1.2"/><circle cx="378.6" cy="139.2" r="1.2"/><circle cx="379.9" cy="140.5" r="1.2"/><circle cx="379.8" cy="141.8" r="1.2"/><circle cx="381.5" cy="141.2" r="1.2"/><circle cx="381.2" cy="141.5" r="1.2"/><circle cx="381.3" cy="142.3" r="1.2"/><circle cx="382.6" cy="143.2" r="1.2"/><circle cx="381.9" cy="143.8" r="1.2"/><circle cx="382.7" cy="144.7" r="1.2"/><circle cx="385.2" cy="145.7" r="1.2"/><circle cx="384.0" cy="144.6" r="1.2"/><circle cx="383.6" cy="145.2" r="1.2"/><circle cx="386.7" cy="151.7" r="1.2"/><circle cx="386.6" cy="152.2" r="1.2"/><circle cx="387.1" cy="154.5" r="1.2"/><circle cx="386.8" cy="153.0" r="1.2"/><circle cx="387.2" cy="154.6" r="1.2"/><circle cx="387.5" cy="152.8" r="1.2"/><circle cx="387.6" cy="152.9" r="1.2"/><circle cx="390.0" cy="157.1" r="1.2"/><circle cx="389.0" cy="155.8" r="1.2"/><circle cx="390.8" cy="154.0" r="1.2"/><circle cx="390.7" cy="155.2" r="1.2"/><circle cx="390.8" cy="157.7" r="1.2"/><circle cx="390.1" cy="156.4" r="1.2"/><circle cx="392.8" cy="155.7" r="1.2"/><circle cx="393.1" cy="157.5" r="1.2"/><circle cx="393.7" cy="157.3" r="1.2"/><circle cx="394.7" cy="155.2" r="1.2"/><circle cx="396.0" cy="159.8" r="1.2"/><circle cx="398.0" cy="134.5" r="1.2"/><circle cx="397.5" cy="136.5" r="1.2"/><circle cx="396.8" cy="138.5" r="1.2"/><circle cx="396.5" cy="140.5" r="1.2"/><circle cx="397.5" cy="142.0" r="1.2"/><circle cx="399.0" cy="142.5" r="1.2"/><circle cx="395.7" cy="149.8" r="1.2"/><circle cx="399.2" cy="149.5" r="1.2"/><circle cx="395.0" cy="152.3" r="1.2"/><circle cx="401.6" cy="156.1" r="1.2"/><circle cx="399.6" cy="155.0" r="1.2"/><circle cx="400.8" cy="154.7" r="1.2"/><circle cx="403.4" cy="154.6" r="1.2"/><circle cx="402.8" cy="153.5" r="1.2"/><circle cx="403.4" cy="155.9" r="1.2"/><circle cx="403.4" cy="155.1" r="1.2"/><circle cx="406.9" cy="154.7" r="1.2"/><circle cx="404.3" cy="155.3" r="1.2"/><circle cx="407.4" cy="158.7" r="1.2"/><circle cx="407.0" cy="155.7" r="1.2"/><circle cx="406.8" cy="157.9" r="1.2"/><circle cx="406.9" cy="158.4" r="1.2"/><circle cx="410.1" cy="157.1" r="1.2"/><circle cx="402.5" cy="161.0" r="1.2"/><circle cx="402.5" cy="165.8" r="1.2"/><circle cx="401.5" cy="158.5" r="1.2"/><circle cx="409.6" cy="163.2" r="1.2"/><circle cx="410.9" cy="161.8" r="1.2"/><circle cx="411.1" cy="162.6" r="1.2"/><circle cx="409.8" cy="163.2" r="1.2"/><circle cx="410.8" cy="162.4" r="1.2"/><circle cx="410.1" cy="162.7" r="1.2"/><circle cx="413.3" cy="165.5" r="1.2"/><circle cx="413.1" cy="165.0" r="1.2"/><circle cx="412.5" cy="164.0" r="1.2"/><circle cx="413.8" cy="163.3" r="1.2"/><circle cx="413.1" cy="164.6" r="1.2"/><circle cx="414.7" cy="165.0" r="1.2"/><circle cx="415.8" cy="166.2" r="1.2"/><circle cx="416.9" cy="166.8" r="1.2"/><circle cx="416.2" cy="167.3" r="1.2"/><circle cx="416.8" cy="167.0" r="1.2"/><circle cx="417.1" cy="168.7" r="1.2"/><circle cx="418.6" cy="169.6" r="1.2"/><circle cx="417.0" cy="168.4" r="1.2"/><circle cx="418.6" cy="169.4" r="1.2"/><circle cx="419.1" cy="169.1" r="1.2"/><circle cx="420.7" cy="170.2" r="1.2"/><circle cx="421.5" cy="169.3" r="1.2"/><circle cx="421.3" cy="169.8" r="1.2"/><circle cx="420.9" cy="170.8" r="1.2"/><circle cx="420.7" cy="167.3" r="1.2"/><circle cx="423.4" cy="166.4" r="1.2"/><circle cx="423.6" cy="169.0" r="1.2"/><circle cx="424.3" cy="171.8" r="1.2"/><circle cx="424.0" cy="168.9" r="1.2"/><circle cx="424.1" cy="168.8" r="1.2"/><circle cx="424.5" cy="171.8" r="1.2"/><circle cx="424.8" cy="168.2" r="1.2"/><circle cx="425.3" cy="172.6" r="1.2"/><circle cx="424.8" cy="168.9" r="1.2"/><circle cx="425.2" cy="174.2" r="1.2"/><circle cx="425.7" cy="174.6" r="1.2"/><circle cx="425.9" cy="171.7" r="1.2"/><circle cx="425.4" cy="170.9" r="1.2"/><circle cx="426.3" cy="171.9" r="1.2"/><circle cx="425.8" cy="168.2" r="1.2"/><circle cx="426.9" cy="175.1" r="1.2"/><circle cx="427.1" cy="171.1" r="1.2"/><circle cx="425.5" cy="170.5" r="1.2"/><circle cx="427.5" cy="173.1" r="1.2"/><circle cx="427.4" cy="170.7" r="1.2"/><circle cx="429.9" cy="173.2" r="1.2"/><circle cx="431.2" cy="171.6" r="1.2"/><circle cx="430.2" cy="170.0" r="1.2"/><circle cx="430.9" cy="171.9" r="1.2"/><circle cx="430.9" cy="169.8" r="1.2"/><circle cx="431.2" cy="169.2" r="1.2"/><circle cx="431.8" cy="171.9" r="1.2"/><circle cx="431.5" cy="169.8" r="1.2"/><circle cx="431.5" cy="172.8" r="1.2"/><circle cx="431.4" cy="172.4" r="1.2"/><circle cx="432.0" cy="170.3" r="1.2"/><circle cx="432.4" cy="172.2" r="1.2"/><circle cx="432.8" cy="173.9" r="1.2"/><circle cx="433.1" cy="170.6" r="1.2"/><circle cx="432.7" cy="173.2" r="1.2"/><circle cx="433.2" cy="173.2" r="1.2"/><circle cx="433.2" cy="175.2" r="1.2"/><circle cx="433.6" cy="169.0" r="1.2"/><circle cx="432.9" cy="171.2" r="1.2"/><circle cx="434.7" cy="170.5" r="1.2"/><circle cx="434.2" cy="172.8" r="1.2"/><circle cx="437.0" cy="173.4" r="1.2"/><circle cx="437.4" cy="175.5" r="1.2"/><circle cx="437.9" cy="172.2" r="1.2"/><circle cx="438.3" cy="171.1" r="1.2"/><circle cx="438.0" cy="169.6" r="1.2"/><circle cx="438.4" cy="172.6" r="1.2"/><circle cx="437.6" cy="172.1" r="1.2"/><circle cx="438.7" cy="170.7" r="1.2"/><circle cx="439.1" cy="170.6" r="1.2"/><circle cx="439.7" cy="173.9" r="1.2"/><circle cx="439.7" cy="173.3" r="1.2"/><circle cx="439.8" cy="171.9" r="1.2"/><circle cx="439.3" cy="173.8" r="1.2"/><circle cx="439.3" cy="174.7" r="1.2"/><circle cx="440.0" cy="169.0" r="1.2"/><circle cx="440.0" cy="175.4" r="1.2"/><circle cx="440.2" cy="170.5" r="1.2"/><circle cx="440.7" cy="174.2" r="1.2"/><circle cx="440.7" cy="172.0" r="1.2"/><circle cx="444.0" cy="174.8" r="1.2"/><circle cx="443.8" cy="173.5" r="1.2"/><circle cx="444.4" cy="172.9" r="1.2"/><circle cx="444.0" cy="175.1" r="1.2"/><circle cx="443.2" cy="177.2" r="1.2"/><circle cx="443.5" cy="172.4" r="1.2"/></g>
<path d="M281.3 188.3H284.2" stroke="#000" stroke-width="1.1"/>
<rect x="280.6" y="60.2" width="167.4" height="128.6" fill="none" stroke="rgba(40,36,60,0.45)" stroke-width="1.0"/>
<text x="280.6" y="198.2" font-size="8.7" font-family="'Liberation Sans', sans-serif" text-anchor="middle">0</text>
<text x="309.7" y="198.2" font-size="8.7" font-family="'Liberation Sans', sans-serif" text-anchor="middle">5</text>
<text x="338.8" y="198.2" font-size="8.7" font-family="'Liberation Sans', sans-serif" text-anchor="middle">10</text>
<text x="368" y="198.2" font-size="8.7" font-family="'Liberation Sans', sans-serif" text-anchor="middle">15</text>
<text x="397.1" y="198.2" font-size="8.7" font-family="'Liberation Sans', sans-serif" text-anchor="middle">20</text>
<text x="426.2" y="198.2" font-size="8.7" font-family="'Liberation Sans', sans-serif" text-anchor="middle">25</text>
<text x="277.8" y="191.7" font-size="8.7" font-family="'Liberation Sans', sans-serif" text-anchor="end">200</text>
<text x="277.8" y="159.5" font-size="8.7" font-family="'Liberation Sans', sans-serif" text-anchor="end">300</text>
<text x="277.8" y="127.4" font-size="8.7" font-family="'Liberation Sans', sans-serif" text-anchor="end">400</text>
<text x="277.8" y="95.2" font-size="8.7" font-family="'Liberation Sans', sans-serif" text-anchor="end">500</text>
<text x="277.8" y="63.1" font-size="8.7" font-family="'Liberation Sans', sans-serif" text-anchor="end">600</text>
<text x="327.2" y="53.2" font-size="11" font-family="'Liberation Serif', serif" textLength="64.0" lengthAdjust="spacingAndGlyphs">Cooling, 6 μm</text>
<text x="348.2" y="77.2" font-size="9.1" font-family="'Liberation Serif', serif" font-weight="bold" textLength="26.8" lengthAdjust="spacingAndGlyphs" stroke="#000" stroke-width="0.3">N - Iso</text>
<text x="433.7" y="77.2" font-size="9.1" font-family="'Liberation Serif', serif" font-weight="bold" textLength="6.4" lengthAdjust="spacingAndGlyphs" stroke="#000" stroke-width="0.3">N</text>
<text x="346.6" y="210" font-size="10.0" font-family="'Liberation Sans', sans-serif" textLength="31.4" lengthAdjust="spacingAndGlyphs">Time, s</text>
<text transform="translate(253.5,119.6) rotate(-90)" x="0" y="0" font-size="10.2" font-family="'Liberation Sans', sans-serif" text-anchor="middle" textLength="102.6" lengthAdjust="spacingAndGlyphs">Structural heterogeneity</text>
<rect x="513.5" y="60.2" width="28.9" height="128.6" fill="#cbbeee"/>
<rect x="542.4" y="60.2" width="102.8" height="128.6" fill="#e4f6d0"/>
<rect x="645.3" y="60.2" width="35.6" height="128.6" fill="#fcccb2"/>
<line x1="517" y1="174.5" x2="542.4" y2="174.5" stroke="#d03246" stroke-width="1.5" stroke-dasharray="2.6 3.8" stroke-dashoffset="0"/>
<line x1="542.4" y1="174.5" x2="645.3" y2="174.5" stroke="#e07a22" stroke-width="1.5" stroke-dasharray="2.6 3.8" stroke-dashoffset="0"/>
<line x1="645.3" y1="174.5" x2="680.9" y2="174.5" stroke="#ec3a22" stroke-width="1.5" stroke-dasharray="2.6 3.8" stroke-dashoffset="0"/>
<line x1="549.3" y1="160.2" x2="645.3" y2="160.2" stroke="#3a56a8" stroke-width="1.5" stroke-dasharray="2.6 3.8" stroke-dashoffset="0"/>
<line x1="645.3" y1="160.2" x2="680.9" y2="160.2" stroke="#8a2aa8" stroke-width="1.5" stroke-dasharray="2.6 3.8" stroke-dashoffset="0"/>
<path d="M513.5 188.8v-2.5M524.6 188.8v-1.5M535.8 188.8v-2.5M546.9 188.8v-1.5M558 188.8v-2.5M569.2 188.8v-1.5M580.3 188.8v-2.5M591.4 188.8v-1.5M602.5 188.8v-2.5M613.7 188.8v-1.5M624.8 188.8v-2.5M635.9 188.8v-1.5M647.1 188.8v-2.5M658.2 188.8v-1.5M669.3 188.8v-2.5M680.5 188.8v-1.5M513.5 188.8h1.5M513.5 174.5h2.5M513.5 160.2h1.5M513.5 145.9h2.5M513.5 131.6h1.5M513.5 117.4h2.5M513.5 103.1h1.5M513.5 88.8h2.5M513.5 74.5h1.5M513.5 60.2h2.5" stroke="#555" stroke-width="0.7" fill="none"/>
<g fill="none" stroke="#000" stroke-width="0.85"><circle cx="515.3" cy="162.1" r="1.45"/><circle cx="514.1" cy="160.1" r="1.45"/><circle cx="515.8" cy="162.1" r="1.45"/><circle cx="515.3" cy="160.6" r="1.45"/><circle cx="514.6" cy="163.3" r="1.45"/><circle cx="515.0" cy="161.5" r="1.45"/><circle cx="516.9" cy="160.5" r="1.45"/><circle cx="516.6" cy="161.5" r="1.45"/><circle cx="516.7" cy="160.4" r="1.45"/><circle cx="517.5" cy="162.4" r="1.45"/><circle cx="517.0" cy="160.9" r="1.45"/><circle cx="516.9" cy="162.2" r="1.45"/><circle cx="517.8" cy="161.3" r="1.45"/><circle cx="517.8" cy="159.6" r="1.45"/><circle cx="517.4" cy="161.5" r="1.45"/><circle cx="518.0" cy="162.9" r="1.45"/><circle cx="517.9" cy="159.6" r="1.45"/><circle cx="518.1" cy="161.6" r="1.45"/><circle cx="518.4" cy="159.4" r="1.45"/><circle cx="518.7" cy="161.2" r="1.45"/><circle cx="518.9" cy="163.5" r="1.45"/><circle cx="519.9" cy="160.2" r="1.45"/><circle cx="520.1" cy="163.4" r="1.45"/><circle cx="520.0" cy="161.0" r="1.45"/><circle cx="520.0" cy="162.0" r="1.45"/><circle cx="519.9" cy="158.1" r="1.45"/><circle cx="520.7" cy="161.1" r="1.45"/><circle cx="520.9" cy="160.2" r="1.45"/><circle cx="521.0" cy="160.6" r="1.45"/><circle cx="521.3" cy="161.2" r="1.45"/><circle cx="521.2" cy="160.1" r="1.45"/><circle cx="521.4" cy="161.9" r="1.45"/><circle cx="521.0" cy="160.1" r="1.45"/><circle cx="521.8" cy="163.6" r="1.45"/><circle cx="521.4" cy="159.5" r="1.45"/><circle cx="522.4" cy="159.3" r="1.45"/><circle cx="522.7" cy="162.1" r="1.45"/><circle cx="522.2" cy="160.5" r="1.45"/><circle cx="523.0" cy="161.4" r="1.45"/><circle cx="522.8" cy="163.8" r="1.45"/><circle cx="523.1" cy="160.3" r="1.45"/><circle cx="522.7" cy="163.4" r="1.45"/><circle cx="523.6" cy="160.3" r="1.45"/><circle cx="523.1" cy="161.8" r="1.45"/><circle cx="524.7" cy="159.4" r="1.45"/><circle cx="524.4" cy="161.8" r="1.45"/><circle cx="525.3" cy="162.5" r="1.45"/><circle cx="524.7" cy="162.6" r="1.45"/><circle cx="525.2" cy="162.0" r="1.45"/><circle cx="525.4" cy="162.8" r="1.45"/><circle cx="525.2" cy="160.1" r="1.45"/><circle cx="525.9" cy="162.4" r="1.45"/><circle cx="525.6" cy="163.1" r="1.45"/><circle cx="526.0" cy="163.4" r="1.45"/><circle cx="526.7" cy="162.2" r="1.45"/><circle cx="526.4" cy="162.7" r="1.45"/><circle cx="525.6" cy="160.9" r="1.45"/><circle cx="526.1" cy="162.7" r="1.45"/><circle cx="527.0" cy="160.7" r="1.45"/><circle cx="527.2" cy="160.7" r="1.45"/><circle cx="526.8" cy="160.5" r="1.45"/><circle cx="526.8" cy="161.1" r="1.45"/><circle cx="527.1" cy="163.1" r="1.45"/><circle cx="527.9" cy="159.7" r="1.45"/><circle cx="528.3" cy="162.6" r="1.45"/><circle cx="527.5" cy="160.9" r="1.45"/><circle cx="528.2" cy="163.3" r="1.45"/><circle cx="527.7" cy="160.5" r="1.45"/><circle cx="528.7" cy="161.1" r="1.45"/><circle cx="528.5" cy="163.1" r="1.45"/><circle cx="528.7" cy="161.7" r="1.45"/><circle cx="530.0" cy="163.1" r="1.45"/><circle cx="529.0" cy="159.6" r="1.45"/><circle cx="529.1" cy="161.3" r="1.45"/><circle cx="529.4" cy="161.5" r="1.45"/><circle cx="530.1" cy="162.5" r="1.45"/><circle cx="529.6" cy="161.7" r="1.45"/><circle cx="530.3" cy="159.6" r="1.45"/><circle cx="530.1" cy="159.5" r="1.45"/><circle cx="530.4" cy="161.7" r="1.45"/><circle cx="530.9" cy="163.9" r="1.45"/><circle cx="531.5" cy="159.0" r="1.45"/><circle cx="530.9" cy="163.3" r="1.45"/><circle cx="531.6" cy="161.2" r="1.45"/><circle cx="532.0" cy="160.0" r="1.45"/><circle cx="531.2" cy="161.3" r="1.45"/><circle cx="532.0" cy="161.6" r="1.45"/><circle cx="532.0" cy="163.2" r="1.45"/><circle cx="532.4" cy="162.7" r="1.45"/><circle cx="532.5" cy="162.8" r="1.45"/><circle cx="532.8" cy="160.2" r="1.45"/><circle cx="533.9" cy="164.4" r="1.45"/><circle cx="533.5" cy="159.7" r="1.45"/><circle cx="533.9" cy="160.8" r="1.45"/><circle cx="534.4" cy="161.3" r="1.45"/><circle cx="534.4" cy="162.7" r="1.45"/><circle cx="533.8" cy="163.8" r="1.45"/><circle cx="535.2" cy="161.3" r="1.45"/><circle cx="534.6" cy="161.6" r="1.45"/><circle cx="535.3" cy="160.7" r="1.45"/><circle cx="535.4" cy="160.6" r="1.45"/><circle cx="535.0" cy="161.3" r="1.45"/><circle cx="535.2" cy="159.7" r="1.45"/><circle cx="536.3" cy="158.9" r="1.45"/><circle cx="535.3" cy="161.3" r="1.45"/><circle cx="536.3" cy="161.7" r="1.45"/><circle cx="536.3" cy="160.5" r="1.45"/><circle cx="536.2" cy="161.0" r="1.45"/><circle cx="536.3" cy="162.6" r="1.45"/><circle cx="536.2" cy="161.9" r="1.45"/><circle cx="537.4" cy="160.1" r="1.45"/><circle cx="536.7" cy="161.1" r="1.45"/><circle cx="537.4" cy="162.6" r="1.45"/><circle cx="538.1" cy="161.0" r="1.45"/><circle cx="537.1" cy="162.5" r="1.45"/><circle cx="538.6" cy="162.9" r="1.45"/><circle cx="538.1" cy="161.8" r="1.45"/><circle cx="538.9" cy="160.8" r="1.45"/><circle cx="538.5" cy="159.5" r="1.45"/><circle cx="538.5" cy="162.9" r="1.45"/><circle cx="539.1" cy="163.9" r="1.45"/><circle cx="539.2" cy="161.6" r="1.45"/><circle cx="539.2" cy="162.3" r="1.45"/><circle cx="538.9" cy="159.8" r="1.45"/><circle cx="539.5" cy="162.6" r="1.45"/><circle cx="540.3" cy="162.8" r="1.45"/><circle cx="540.6" cy="162.2" r="1.45"/><circle cx="540.5" cy="162.6" r="1.45"/><circle cx="540.6" cy="161.4" r="1.45"/><circle cx="540.7" cy="161.6" r="1.45"/><circle cx="540.4" cy="162.6" r="1.45"/><circle cx="540.2" cy="161.5" r="1.45"/><circle cx="540.8" cy="162.1" r="1.45"/><circle cx="542.2" cy="161.2" r="1.45"/><circle cx="541.8" cy="160.6" r="1.45"/><circle cx="542.4" cy="160.7" r="1.45"/><circle cx="542.7" cy="162.4" r="1.45"/><circle cx="542.5" cy="161.2" r="1.45"/><circle cx="542.8" cy="158.6" r="1.45"/><circle cx="542.6" cy="161.5" r="1.45"/><circle cx="542.8" cy="158.8" r="1.45"/><circle cx="543.7" cy="159.7" r="1.45"/><circle cx="543.3" cy="159.3" r="1.45"/><circle cx="543.9" cy="162.4" r="1.45"/><circle cx="544.4" cy="158.7" r="1.45"/><circle cx="544.2" cy="160.9" r="1.45"/><circle cx="544.7" cy="157.2" r="1.45"/><circle cx="545.1" cy="160.8" r="1.45"/><circle cx="545.2" cy="160.5" r="1.45"/><circle cx="544.8" cy="160.9" r="1.45"/><circle cx="544.7" cy="154.7" r="1.45"/><circle cx="545.7" cy="156.5" r="1.45"/><circle cx="545.0" cy="156.6" r="1.45"/><circle cx="546.1" cy="154.9" r="1.45"/><circle cx="547.0" cy="158.4" r="1.45"/><circle cx="546.5" cy="155.5" r="1.45"/><circle cx="547.1" cy="154.5" r="1.45"/><circle cx="547.1" cy="152.1" r="1.45"/><circle cx="546.7" cy="153.9" r="1.45"/><circle cx="547.5" cy="150.6" r="1.45"/><circle cx="547.5" cy="150.0" r="1.45"/><circle cx="547.3" cy="149.0" r="1.45"/><circle cx="548.1" cy="151.6" r="1.45"/><circle cx="547.6" cy="151.2" r="1.45"/><circle cx="548.2" cy="149.7" r="1.45"/><circle cx="548.8" cy="149.9" r="1.45"/><circle cx="550.0" cy="147.0" r="1.45"/><circle cx="549.5" cy="147.3" r="1.45"/><circle cx="549.2" cy="145.5" r="1.45"/><circle cx="549.5" cy="150.4" r="1.45"/><circle cx="550.5" cy="149.1" r="1.45"/><circle cx="550.8" cy="148.2" r="1.45"/><circle cx="550.1" cy="148.9" r="1.45"/><circle cx="550.4" cy="145.7" r="1.45"/><circle cx="551.0" cy="146.0" r="1.45"/><circle cx="550.4" cy="147.8" r="1.45"/><circle cx="551.7" cy="146.7" r="1.45"/><circle cx="552.7" cy="142.9" r="1.45"/><circle cx="552.1" cy="143.0" r="1.45"/><circle cx="552.7" cy="146.1" r="1.45"/><circle cx="552.4" cy="140.8" r="1.45"/><circle cx="552.9" cy="144.7" r="1.45"/><circle cx="553.1" cy="144.3" r="1.45"/><circle cx="553.1" cy="140.8" r="1.45"/><circle cx="553.8" cy="139.9" r="1.45"/><circle cx="554.0" cy="139.1" r="1.45"/><circle cx="554.2" cy="140.4" r="1.45"/><circle cx="553.9" cy="140.9" r="1.45"/><circle cx="555.5" cy="141.9" r="1.45"/><circle cx="555.1" cy="137.7" r="1.45"/><circle cx="555.4" cy="139.6" r="1.45"/><circle cx="556.0" cy="139.9" r="1.45"/><circle cx="555.4" cy="135.7" r="1.45"/><circle cx="555.8" cy="135.8" r="1.45"/><circle cx="556.4" cy="135.6" r="1.45"/><circle cx="557.3" cy="142.0" r="1.45"/><circle cx="557.1" cy="136.9" r="1.45"/><circle cx="555.8" cy="136.1" r="1.45"/><circle cx="558.0" cy="137.3" r="1.45"/><circle cx="557.3" cy="133.9" r="1.45"/><circle cx="557.7" cy="135.8" r="1.45"/><circle cx="558.0" cy="136.0" r="1.45"/><circle cx="558.5" cy="139.1" r="1.45"/><circle cx="558.9" cy="137.4" r="1.45"/><circle cx="558.1" cy="135.4" r="1.45"/><circle cx="559.0" cy="136.4" r="1.45"/><circle cx="559.2" cy="134.0" r="1.45"/><circle cx="560.3" cy="135.3" r="1.45"/><circle cx="559.2" cy="136.7" r="1.45"/><circle cx="559.6" cy="141.7" r="1.45"/><circle cx="560.1" cy="138.4" r="1.45"/><circle cx="560.0" cy="142.2" r="1.45"/><circle cx="561.7" cy="143.1" r="1.45"/><circle cx="561.3" cy="139.5" r="1.45"/><circle cx="560.8" cy="144.8" r="1.45"/><circle cx="561.4" cy="144.6" r="1.45"/><circle cx="561.8" cy="143.3" r="1.45"/><circle cx="561.8" cy="139.2" r="1.45"/><circle cx="562.2" cy="139.1" r="1.45"/><circle cx="561.9" cy="138.8" r="1.45"/><circle cx="562.9" cy="142.3" r="1.45"/><circle cx="563.3" cy="139.9" r="1.45"/><circle cx="562.9" cy="137.9" r="1.45"/><circle cx="563.0" cy="139.7" r="1.45"/><circle cx="563.5" cy="144.3" r="1.45"/><circle cx="563.9" cy="142.6" r="1.45"/><circle cx="564.4" cy="138.8" r="1.45"/><circle cx="564.7" cy="138.8" r="1.45"/><circle cx="564.1" cy="142.4" r="1.45"/><circle cx="565.3" cy="143.1" r="1.45"/><circle cx="565.5" cy="138.2" r="1.45"/><circle cx="565.5" cy="141.2" r="1.45"/><circle cx="565.4" cy="140.5" r="1.45"/><circle cx="565.9" cy="143.3" r="1.45"/><circle cx="565.6" cy="143.6" r="1.45"/><circle cx="566.6" cy="143.2" r="1.45"/><circle cx="566.3" cy="143.8" r="1.45"/><circle cx="567.1" cy="137.7" r="1.45"/><circle cx="567.8" cy="139.8" r="1.45"/><circle cx="567.9" cy="141.1" r="1.45"/><circle cx="567.8" cy="140.2" r="1.45"/><circle cx="567.9" cy="138.6" r="1.45"/><circle cx="567.8" cy="137.6" r="1.45"/><circle cx="567.6" cy="139.2" r="1.45"/><circle cx="568.9" cy="138.9" r="1.45"/><circle cx="569.4" cy="138.8" r="1.45"/><circle cx="568.8" cy="138.5" r="1.45"/><circle cx="569.8" cy="144.4" r="1.45"/><circle cx="569.2" cy="143.9" r="1.45"/><circle cx="569.9" cy="138.1" r="1.45"/><circle cx="570.4" cy="144.1" r="1.45"/><circle cx="570.1" cy="137.6" r="1.45"/><circle cx="571.2" cy="140.6" r="1.45"/><circle cx="571.4" cy="139.6" r="1.45"/><circle cx="571.4" cy="144.1" r="1.45"/><circle cx="571.1" cy="138.8" r="1.45"/><circle cx="571.8" cy="138.2" r="1.45"/><circle cx="571.8" cy="141.2" r="1.45"/><circle cx="571.9" cy="139.6" r="1.45"/><circle cx="572.6" cy="138.4" r="1.45"/><circle cx="572.9" cy="143.0" r="1.45"/><circle cx="572.4" cy="142.8" r="1.45"/><circle cx="573.7" cy="143.7" r="1.45"/><circle cx="573.2" cy="140.8" r="1.45"/><circle cx="573.4" cy="139.8" r="1.45"/><circle cx="574.5" cy="141.4" r="1.45"/><circle cx="574.1" cy="144.9" r="1.45"/><circle cx="574.6" cy="138.3" r="1.45"/><circle cx="573.9" cy="143.3" r="1.45"/><circle cx="575.1" cy="141.4" r="1.45"/><circle cx="575.0" cy="139.3" r="1.45"/><circle cx="575.1" cy="143.6" r="1.45"/><circle cx="575.5" cy="144.8" r="1.45"/><circle cx="575.2" cy="141.0" r="1.45"/><circle cx="576.2" cy="137.1" r="1.45"/><circle cx="576.8" cy="143.1" r="1.45"/><circle cx="576.7" cy="141.0" r="1.45"/><circle cx="577.3" cy="137.3" r="1.45"/><circle cx="577.2" cy="143.2" r="1.45"/><circle cx="577.0" cy="138.7" r="1.45"/><circle cx="577.3" cy="138.6" r="1.45"/><circle cx="577.2" cy="144.6" r="1.45"/><circle cx="578.1" cy="142.3" r="1.45"/><circle cx="578.2" cy="137.3" r="1.45"/><circle cx="578.6" cy="136.8" r="1.45"/><circle cx="578.9" cy="142.9" r="1.45"/><circle cx="578.8" cy="137.6" r="1.45"/><circle cx="579.5" cy="144.5" r="1.45"/><circle cx="579.7" cy="139.2" r="1.45"/><circle cx="580.1" cy="141.5" r="1.45"/><circle cx="580.4" cy="141.6" r="1.45"/><circle cx="580.4" cy="142.7" r="1.45"/><circle cx="580.7" cy="145.1" r="1.45"/><circle cx="581.8" cy="138.6" r="1.45"/><circle cx="581.1" cy="144.6" r="1.45"/><circle cx="581.5" cy="137.3" r="1.45"/><circle cx="581.3" cy="139.3" r="1.45"/><circle cx="582.2" cy="138.9" r="1.45"/><circle cx="582.2" cy="137.7" r="1.45"/><circle cx="582.7" cy="144.0" r="1.45"/><circle cx="582.7" cy="136.0" r="1.45"/><circle cx="583.1" cy="142.6" r="1.45"/><circle cx="582.4" cy="140.1" r="1.45"/><circle cx="584.1" cy="138.7" r="1.45"/><circle cx="583.5" cy="143.1" r="1.45"/><circle cx="584.2" cy="138.8" r="1.45"/><circle cx="584.0" cy="137.7" r="1.45"/><circle cx="584.6" cy="138.1" r="1.45"/><circle cx="584.8" cy="138.0" r="1.45"/><circle cx="585.5" cy="138.9" r="1.45"/><circle cx="585.1" cy="138.5" r="1.45"/><circle cx="584.5" cy="140.6" r="1.45"/><circle cx="585.2" cy="144.3" r="1.45"/><circle cx="586.6" cy="142.3" r="1.45"/><circle cx="586.6" cy="137.5" r="1.45"/><circle cx="585.6" cy="138.4" r="1.45"/><circle cx="587.1" cy="137.6" r="1.45"/><circle cx="586.8" cy="140.4" r="1.45"/><circle cx="586.3" cy="138.9" r="1.45"/><circle cx="587.3" cy="144.2" r="1.45"/><circle cx="587.6" cy="140.4" r="1.45"/><circle cx="587.8" cy="137.3" r="1.45"/><circle cx="587.9" cy="138.8" r="1.45"/><circle cx="589.0" cy="137.2" r="1.45"/><circle cx="588.8" cy="140.1" r="1.45"/><circle cx="589.1" cy="139.7" r="1.45"/><circle cx="589.9" cy="140.5" r="1.45"/><circle cx="589.3" cy="139.6" r="1.45"/><circle cx="589.6" cy="141.9" r="1.45"/><circle cx="590.1" cy="140.9" r="1.45"/><circle cx="589.7" cy="142.7" r="1.45"/><circle cx="590.6" cy="137.5" r="1.45"/><circle cx="590.5" cy="137.8" r="1.45"/><circle cx="590.2" cy="144.0" r="1.45"/><circle cx="591.6" cy="139.6" r="1.45"/><circle cx="591.6" cy="144.5" r="1.45"/><circle cx="591.8" cy="142.1" r="1.45"/><circle cx="592.0" cy="137.8" r="1.45"/><circle cx="592.9" cy="141.1" r="1.45"/><circle cx="591.5" cy="139.4" r="1.45"/><circle cx="591.8" cy="142.1" r="1.45"/><circle cx="592.6" cy="138.3" r="1.45"/><circle cx="593.5" cy="141.1" r="1.45"/><circle cx="594.2" cy="140.0" r="1.45"/><circle cx="593.6" cy="143.1" r="1.45"/><circle cx="594.1" cy="138.4" r="1.45"/><circle cx="594.7" cy="140.2" r="1.45"/><circle cx="594.0" cy="145.0" r="1.45"/><circle cx="594.9" cy="141.2" r="1.45"/><circle cx="594.5" cy="139.6" r="1.45"/><circle cx="594.8" cy="141.3" r="1.45"/><circle cx="595.5" cy="141.2" r="1.45"/><circle cx="595.6" cy="139.3" r="1.45"/><circle cx="595.8" cy="141.5" r="1.45"/><circle cx="596.2" cy="141.7" r="1.45"/><circle cx="596.2" cy="141.2" r="1.45"/><circle cx="596.2" cy="138.6" r="1.45"/><circle cx="597.0" cy="142.8" r="1.45"/><circle cx="597.1" cy="143.8" r="1.45"/><circle cx="598.0" cy="143.1" r="1.45"/><circle cx="598.0" cy="136.7" r="1.45"/><circle cx="597.9" cy="139.0" r="1.45"/><circle cx="598.4" cy="141.7" r="1.45"/><circle cx="598.1" cy="136.0" r="1.45"/><circle cx="599.1" cy="139.0" r="1.45"/><circle cx="599.9" cy="138.3" r="1.45"/><circle cx="599.2" cy="139.9" r="1.45"/><circle cx="599.7" cy="139.2" r="1.45"/><circle cx="600.9" cy="140.0" r="1.45"/><circle cx="599.7" cy="143.0" r="1.45"/><circle cx="600.5" cy="142.6" r="1.45"/><circle cx="600.7" cy="139.5" r="1.45"/><circle cx="600.1" cy="141.0" r="1.45"/><circle cx="600.9" cy="137.4" r="1.45"/><circle cx="601.2" cy="136.6" r="1.45"/><circle cx="601.1" cy="136.5" r="1.45"/><circle cx="601.6" cy="138.8" r="1.45"/><circle cx="602.3" cy="142.9" r="1.45"/><circle cx="601.8" cy="137.9" r="1.45"/><circle cx="602.9" cy="138.3" r="1.45"/><circle cx="603.1" cy="141.2" r="1.45"/><circle cx="603.1" cy="137.5" r="1.45"/><circle cx="603.2" cy="138.2" r="1.45"/><circle cx="603.6" cy="140.6" r="1.45"/><circle cx="604.1" cy="140.5" r="1.45"/><circle cx="604.2" cy="144.7" r="1.45"/><circle cx="604.1" cy="136.3" r="1.45"/><circle cx="603.9" cy="143.9" r="1.45"/><circle cx="605.3" cy="141.1" r="1.45"/><circle cx="605.5" cy="140.4" r="1.45"/><circle cx="605.2" cy="137.8" r="1.45"/><circle cx="606.1" cy="140.3" r="1.45"/><circle cx="605.6" cy="141.6" r="1.45"/><circle cx="605.3" cy="138.5" r="1.45"/><circle cx="607.0" cy="141.3" r="1.45"/><circle cx="606.3" cy="143.2" r="1.45"/><circle cx="606.4" cy="134.7" r="1.45"/><circle cx="607.0" cy="140.2" r="1.45"/><circle cx="607.5" cy="140.1" r="1.45"/><circle cx="606.9" cy="136.3" r="1.45"/><circle cx="608.3" cy="138.7" r="1.45"/><circle cx="607.9" cy="142.1" r="1.45"/><circle cx="608.3" cy="142.2" r="1.45"/><circle cx="608.5" cy="141.2" r="1.45"/><circle cx="608.2" cy="137.6" r="1.45"/><circle cx="609.4" cy="144.0" r="1.45"/><circle cx="609.9" cy="137.4" r="1.45"/><circle cx="609.1" cy="141.2" r="1.45"/><circle cx="610.3" cy="139.6" r="1.45"/><circle cx="610.1" cy="142.9" r="1.45"/><circle cx="610.2" cy="141.4" r="1.45"/><circle cx="610.8" cy="138.4" r="1.45"/><circle cx="610.1" cy="138.4" r="1.45"/><circle cx="611.3" cy="136.9" r="1.45"/><circle cx="611.7" cy="138.9" r="1.45"/><circle cx="611.2" cy="140.3" r="1.45"/><circle cx="611.9" cy="142.2" r="1.45"/><circle cx="611.6" cy="140.0" r="1.45"/><circle cx="611.9" cy="138.9" r="1.45"/><circle cx="612.7" cy="136.8" r="1.45"/><circle cx="612.0" cy="142.0" r="1.45"/><circle cx="613.1" cy="138.9" r="1.45"/><circle cx="612.8" cy="138.4" r="1.45"/><circle cx="613.1" cy="139.5" r="1.45"/><circle cx="613.1" cy="138.8" r="1.45"/><circle cx="614.3" cy="143.5" r="1.45"/><circle cx="614.0" cy="139.7" r="1.45"/><circle cx="614.6" cy="141.6" r="1.45"/><circle cx="614.5" cy="137.4" r="1.45"/><circle cx="613.8" cy="141.3" r="1.45"/><circle cx="615.6" cy="137.6" r="1.45"/><circle cx="615.2" cy="137.6" r="1.45"/><circle cx="615.4" cy="143.1" r="1.45"/><circle cx="615.7" cy="143.4" r="1.45"/><circle cx="615.9" cy="140.2" r="1.45"/><circle cx="616.9" cy="136.4" r="1.45"/><circle cx="616.6" cy="144.1" r="1.45"/><circle cx="617.1" cy="141.5" r="1.45"/><circle cx="616.4" cy="138.8" r="1.45"/><circle cx="617.5" cy="136.6" r="1.45"/><circle cx="617.9" cy="138.2" r="1.45"/><circle cx="617.7" cy="141.0" r="1.45"/><circle cx="618.6" cy="140.4" r="1.45"/><circle cx="618.5" cy="137.7" r="1.45"/><circle cx="618.2" cy="138.7" r="1.45"/><circle cx="619.0" cy="136.2" r="1.45"/><circle cx="618.9" cy="142.5" r="1.45"/><circle cx="619.2" cy="136.3" r="1.45"/><circle cx="619.8" cy="138.2" r="1.45"/><circle cx="620.0" cy="140.2" r="1.45"/><circle cx="620.7" cy="136.4" r="1.45"/><circle cx="620.7" cy="131.5" r="1.45"/><circle cx="620.6" cy="133.6" r="1.45"/><circle cx="621.3" cy="134.9" r="1.45"/><circle cx="620.8" cy="136.3" r="1.45"/><circle cx="621.9" cy="130.2" r="1.45"/><circle cx="622.2" cy="130.1" r="1.45"/><circle cx="622.5" cy="136.9" r="1.45"/><circle cx="622.4" cy="131.1" r="1.45"/><circle cx="622.4" cy="136.6" r="1.45"/><circle cx="622.6" cy="132.7" r="1.45"/><circle cx="623.2" cy="136.4" r="1.45"/><circle cx="623.1" cy="135.6" r="1.45"/><circle cx="623.2" cy="134.1" r="1.45"/><circle cx="623.3" cy="131.4" r="1.45"/><circle cx="624.0" cy="134.0" r="1.45"/><circle cx="624.0" cy="128.8" r="1.45"/><circle cx="625.2" cy="129.2" r="1.45"/><circle cx="624.3" cy="135.8" r="1.45"/><circle cx="625.2" cy="128.0" r="1.45"/><circle cx="625.3" cy="132.1" r="1.45"/><circle cx="625.4" cy="133.9" r="1.45"/><circle cx="625.5" cy="132.7" r="1.45"/><circle cx="625.8" cy="130.9" r="1.45"/><circle cx="626.0" cy="128.8" r="1.45"/><circle cx="625.7" cy="130.6" r="1.45"/><circle cx="626.5" cy="134.3" r="1.45"/><circle cx="627.3" cy="134.1" r="1.45"/><circle cx="627.7" cy="127.8" r="1.45"/><circle cx="627.1" cy="131.0" r="1.45"/><circle cx="627.1" cy="127.6" r="1.45"/><circle cx="627.6" cy="129.4" r="1.45"/><circle cx="628.2" cy="128.6" r="1.45"/><circle cx="628.9" cy="132.2" r="1.45"/><circle cx="629.6" cy="129.7" r="1.45"/><circle cx="629.3" cy="129.1" r="1.45"/><circle cx="629.7" cy="129.0" r="1.45"/><circle cx="629.2" cy="103.8" r="1.45"/><circle cx="630.2" cy="106.8" r="1.45"/><circle cx="629.0" cy="111.8" r="1.45"/><circle cx="629.8" cy="109.5" r="1.45"/><circle cx="630.8" cy="107.2" r="1.45"/><circle cx="630.8" cy="112.7" r="1.45"/><circle cx="630.9" cy="112.4" r="1.45"/><circle cx="631.6" cy="107.3" r="1.45"/><circle cx="631.1" cy="110.4" r="1.45"/><circle cx="632.1" cy="113.1" r="1.45"/><circle cx="632.2" cy="114.4" r="1.45"/><circle cx="632.1" cy="115.0" r="1.45"/><circle cx="632.3" cy="112.1" r="1.45"/><circle cx="632.4" cy="112.9" r="1.45"/><circle cx="633.4" cy="111.3" r="1.45"/><circle cx="633.6" cy="112.2" r="1.45"/><circle cx="633.2" cy="114.4" r="1.45"/><circle cx="634.0" cy="114.1" r="1.45"/><circle cx="634.5" cy="113.3" r="1.45"/><circle cx="634.1" cy="114.0" r="1.45"/><circle cx="634.5" cy="112.9" r="1.45"/><circle cx="634.9" cy="116.3" r="1.45"/><circle cx="634.4" cy="115.9" r="1.45"/><circle cx="635.1" cy="116.3" r="1.45"/><circle cx="635.0" cy="119.3" r="1.45"/><circle cx="636.1" cy="120.2" r="1.45"/><circle cx="636.9" cy="122.5" r="1.45"/><circle cx="636.4" cy="127.0" r="1.45"/><circle cx="637.4" cy="129.0" r="1.45"/><circle cx="637.9" cy="130.1" r="1.45"/><circle cx="638.7" cy="132.8" r="1.45"/><circle cx="638.8" cy="137.1" r="1.45"/><circle cx="639.7" cy="141.2" r="1.45"/><circle cx="640.1" cy="144.7" r="1.45"/><circle cx="640.6" cy="151.6" r="1.45"/><circle cx="642.1" cy="155.1" r="1.45"/><circle cx="642.4" cy="156.3" r="1.45"/><circle cx="642.8" cy="158.5" r="1.45"/><circle cx="643.6" cy="163.6" r="1.45"/><circle cx="644.3" cy="166.5" r="1.45"/><circle cx="644.0" cy="167.7" r="1.45"/><circle cx="644.1" cy="167.8" r="1.45"/><circle cx="645.2" cy="168.2" r="1.45"/><circle cx="645.3" cy="169.7" r="1.45"/><circle cx="645.3" cy="167.8" r="1.45"/><circle cx="645.2" cy="167.6" r="1.45"/><circle cx="646.4" cy="170.3" r="1.45"/><circle cx="646.0" cy="169.0" r="1.45"/><circle cx="647.1" cy="167.9" r="1.45"/><circle cx="647.3" cy="168.5" r="1.45"/><circle cx="647.0" cy="169.5" r="1.45"/><circle cx="648.1" cy="167.5" r="1.45"/><circle cx="648.8" cy="171.2" r="1.45"/><circle cx="648.7" cy="167.1" r="1.45"/><circle cx="649.0" cy="172.9" r="1.45"/><circle cx="649.8" cy="169.8" r="1.45"/><circle cx="649.5" cy="171.5" r="1.45"/><circle cx="649.5" cy="168.9" r="1.45"/><circle cx="650.6" cy="169.0" r="1.45"/><circle cx="651.2" cy="168.2" r="1.45"/><circle cx="651.0" cy="169.2" r="1.45"/><circle cx="651.3" cy="173.3" r="1.45"/><circle cx="651.8" cy="170.5" r="1.45"/><circle cx="651.8" cy="176.4" r="1.45"/><circle cx="651.4" cy="166.9" r="1.45"/><circle cx="653.0" cy="175.8" r="1.45"/><circle cx="652.7" cy="169.1" r="1.45"/><circle cx="653.0" cy="166.6" r="1.45"/><circle cx="653.6" cy="168.0" r="1.45"/><circle cx="654.3" cy="168.3" r="1.45"/><circle cx="653.6" cy="172.0" r="1.45"/><circle cx="654.5" cy="169.9" r="1.45"/><circle cx="654.6" cy="167.8" r="1.45"/><circle cx="656.0" cy="173.6" r="1.45"/><circle cx="656.1" cy="170.3" r="1.45"/><circle cx="655.8" cy="172.3" r="1.45"/><circle cx="655.8" cy="175.5" r="1.45"/><circle cx="656.9" cy="170.6" r="1.45"/><circle cx="656.3" cy="173.9" r="1.45"/><circle cx="657.4" cy="179.1" r="1.45"/><circle cx="657.1" cy="171.5" r="1.45"/><circle cx="657.9" cy="178.6" r="1.45"/><circle cx="657.8" cy="168.3" r="1.45"/><circle cx="658.7" cy="173.9" r="1.45"/><circle cx="658.4" cy="175.2" r="1.45"/><circle cx="659.1" cy="174.4" r="1.45"/><circle cx="659.4" cy="175.1" r="1.45"/><circle cx="659.9" cy="176.0" r="1.45"/><circle cx="659.5" cy="173.7" r="1.45"/><circle cx="660.9" cy="176.2" r="1.45"/><circle cx="660.9" cy="177.7" r="1.45"/><circle cx="661.3" cy="176.3" r="1.45"/><circle cx="661.3" cy="172.0" r="1.45"/><circle cx="661.8" cy="177.0" r="1.45"/><circle cx="662.6" cy="173.0" r="1.45"/><circle cx="661.3" cy="171.3" r="1.45"/><circle cx="662.1" cy="175.2" r="1.45"/><circle cx="662.4" cy="177.4" r="1.45"/><circle cx="663.2" cy="172.0" r="1.45"/><circle cx="663.4" cy="177.4" r="1.45"/><circle cx="664.5" cy="170.4" r="1.45"/><circle cx="664.1" cy="172.7" r="1.45"/><circle cx="665.2" cy="170.4" r="1.45"/><circle cx="665.0" cy="170.0" r="1.45"/><circle cx="665.6" cy="179.1" r="1.45"/><circle cx="665.8" cy="171.3" r="1.45"/><circle cx="665.8" cy="171.7" r="1.45"/><circle cx="666.7" cy="177.7" r="1.45"/><circle cx="667.3" cy="177.0" r="1.45"/><circle cx="667.2" cy="172.7" r="1.45"/><circle cx="667.4" cy="171.1" r="1.45"/><circle cx="667.1" cy="178.4" r="1.45"/><circle cx="668.3" cy="173.4" r="1.45"/><circle cx="668.1" cy="178.9" r="1.45"/><circle cx="668.6" cy="172.5" r="1.45"/><circle cx="669.2" cy="171.6" r="1.45"/><circle cx="669.3" cy="172.8" r="1.45"/><circle cx="669.7" cy="179.9" r="1.45"/><circle cx="670.4" cy="178.2" r="1.45"/><circle cx="670.4" cy="170.8" r="1.45"/><circle cx="671.0" cy="177.8" r="1.45"/><circle cx="671.0" cy="176.3" r="1.45"/><circle cx="671.5" cy="173.8" r="1.45"/><circle cx="672.3" cy="174.5" r="1.45"/><circle cx="672.5" cy="179.2" r="1.45"/><circle cx="673.3" cy="173.7" r="1.45"/><circle cx="673.1" cy="172.2" r="1.45"/><circle cx="673.3" cy="176.3" r="1.45"/><circle cx="673.7" cy="178.4" r="1.45"/><circle cx="674.6" cy="178.0" r="1.45"/><circle cx="674.1" cy="174.5" r="1.45"/><circle cx="675.1" cy="171.4" r="1.45"/><circle cx="514.4" cy="171.7" r="1.45"/><circle cx="631.0" cy="103.2" r="1.45"/><circle cx="629.7" cy="115.5" r="1.45"/><circle cx="628.6" cy="112.5" r="1.45"/></g>
<rect x="513.5" y="60.2" width="167.4" height="128.6" fill="none" stroke="rgba(40,36,60,0.45)" stroke-width="1.0"/>
<text x="513.5" y="198.2" font-size="8.7" font-family="'Liberation Sans', sans-serif" text-anchor="middle">0</text>
<text x="535.8" y="198.2" font-size="8.7" font-family="'Liberation Sans', sans-serif" text-anchor="middle">10</text>
<text x="558" y="198.2" font-size="8.7" font-family="'Liberation Sans', sans-serif" text-anchor="middle">20</text>
<text x="580.3" y="198.2" font-size="8.7" font-family="'Liberation Sans', sans-serif" text-anchor="middle">30</text>
<text x="602.5" y="198.2" font-size="8.7" font-family="'Liberation Sans', sans-serif" text-anchor="middle">40</text>
<text x="624.8" y="198.2" font-size="8.7" font-family="'Liberation Sans', sans-serif" text-anchor="middle">50</text>
<text x="647.1" y="198.2" font-size="8.7" font-family="'Liberation Sans', sans-serif" text-anchor="middle">60</text>
<text x="669.3" y="198.2" font-size="8.7" font-family="'Liberation Sans', sans-serif" text-anchor="middle">70</text>
<text x="510.7" y="177.4" font-size="8.7" font-family="'Liberation Sans', sans-serif" text-anchor="end">200</text>
<text x="510.7" y="148.8" font-size="8.7" font-family="'Liberation Sans', sans-serif" text-anchor="end">300</text>
<text x="510.7" y="120.2" font-size="8.7" font-family="'Liberation Sans', sans-serif" text-anchor="end">400</text>
<text x="510.7" y="91.6" font-size="8.7" font-family="'Liberation Sans', sans-serif" text-anchor="end">500</text>
<text x="510.7" y="63.1" font-size="8.7" font-family="'Liberation Sans', sans-serif" text-anchor="end">600</text>
<text x="560.2" y="53.2" font-size="11" font-family="'Liberation Serif', serif" textLength="68.9" lengthAdjust="spacingAndGlyphs">Heating, 60 μm</text>
<text x="524.9" y="77.2" font-size="9.1" font-family="'Liberation Serif', serif" font-weight="bold" textLength="6.2" lengthAdjust="spacingAndGlyphs" stroke="#000" stroke-width="0.3">N</text>
<text x="581" y="77.2" font-size="9.1" font-family="'Liberation Serif', serif" font-weight="bold" textLength="27.0" lengthAdjust="spacingAndGlyphs" stroke="#000" stroke-width="0.3">N - Iso</text>
<text x="657.8" y="77.2" font-size="9.1" font-family="'Liberation Serif', serif" font-weight="bold" textLength="11.9" lengthAdjust="spacingAndGlyphs" stroke="#000" stroke-width="0.3">Iso</text>
<text x="580.6" y="210" font-size="10.0" font-family="'Liberation Sans', sans-serif" textLength="30.8" lengthAdjust="spacingAndGlyphs">Time, s</text>
<text transform="translate(486.4,119.6) rotate(-90)" x="0" y="0" font-size="10.2" font-family="'Liberation Sans', sans-serif" text-anchor="middle" textLength="102.6" lengthAdjust="spacingAndGlyphs">Structural heterogeneity</text>
<rect x="48" y="316.1" width="167.4" height="128.6" fill="#daf4b8"/>
<path d="M48 444.7v-2.5M64.7 444.7v-1.5M81.5 444.7v-2.5M98.2 444.7v-1.5M115 444.7v-2.5M131.7 444.7v-1.5M148.4 444.7v-2.5M165.2 444.7v-1.5M181.9 444.7v-2.5M198.7 444.7v-1.5M215.4 444.7v-2.5M48 429.6h2.5M48 410.7h1.5M48 391.7h2.5M48 372.8h1.5M48 353.9h2.5M48 335h1.5M48 316.1h2.5" stroke="#555" stroke-width="0.7" fill="none"/>
<g fill="none" stroke="#000" stroke-width="1.1"><circle cx="49.2" cy="432.5" r="1.25"/><circle cx="49.1" cy="431.3" r="1.25"/><circle cx="50.3" cy="430.7" r="1.25"/><circle cx="52.2" cy="426.5" r="1.25"/><circle cx="53.4" cy="423.5" r="1.25"/><circle cx="55.2" cy="428.6" r="1.25"/><circle cx="55.9" cy="422.6" r="1.25"/><circle cx="56.0" cy="422.1" r="1.25"/><circle cx="57.3" cy="425.0" r="1.25"/><circle cx="58.4" cy="418.5" r="1.25"/><circle cx="59.5" cy="418.6" r="1.25"/><circle cx="61.1" cy="420.9" r="1.25"/><circle cx="62.9" cy="422.2" r="1.25"/><circle cx="63.1" cy="420.2" r="1.25"/><circle cx="64.1" cy="418.9" r="1.25"/><circle cx="65.8" cy="421.3" r="1.25"/><circle cx="65.8" cy="418.1" r="1.25"/><circle cx="67.9" cy="414.9" r="1.25"/><circle cx="69.3" cy="419.8" r="1.25"/><circle cx="69.2" cy="417.7" r="1.25"/><circle cx="71.4" cy="417.6" r="1.25"/><circle cx="72.7" cy="411.7" r="1.25"/><circle cx="72.5" cy="406.7" r="1.25"/><circle cx="74.7" cy="407.8" r="1.25"/><circle cx="75.2" cy="406.5" r="1.25"/><circle cx="75.8" cy="403.5" r="1.25"/><circle cx="76.7" cy="403.6" r="1.25"/><circle cx="51.5" cy="437.1" r="1.25"/><circle cx="50.5" cy="438.5" r="1.25"/><circle cx="53.2" cy="435.3" r="1.25"/><circle cx="55.4" cy="436.9" r="1.25"/><circle cx="54.8" cy="433.0" r="1.25"/><circle cx="57.5" cy="433.2" r="1.25"/><circle cx="58.2" cy="434.8" r="1.25"/><circle cx="59.4" cy="429.1" r="1.25"/><circle cx="60.5" cy="432.0" r="1.25"/><circle cx="61.5" cy="428.0" r="1.25"/><circle cx="62.6" cy="427.3" r="1.25"/><circle cx="62.7" cy="429.9" r="1.25"/><circle cx="65.1" cy="428.6" r="1.25"/><circle cx="66.0" cy="429.0" r="1.25"/><circle cx="68.5" cy="424.8" r="1.25"/><circle cx="69.2" cy="424.8" r="1.25"/><circle cx="70.3" cy="421.4" r="1.25"/><circle cx="71.3" cy="421.8" r="1.25"/><circle cx="72.0" cy="420.1" r="1.25"/><circle cx="73.7" cy="418.5" r="1.25"/><circle cx="75.6" cy="411.5" r="1.25"/><circle cx="77.3" cy="414.1" r="1.25"/><circle cx="77.3" cy="407.3" r="1.25"/><circle cx="80.3" cy="397.2" r="1.25"/><circle cx="80.7" cy="396.3" r="1.25"/><circle cx="82.4" cy="395.1" r="1.25"/><circle cx="81.7" cy="392.5" r="1.25"/><circle cx="82.9" cy="383.4" r="1.25"/><circle cx="83.2" cy="378.4" r="1.25"/><circle cx="86.4" cy="371.7" r="1.25"/><circle cx="85.7" cy="365.6" r="1.25"/><circle cx="87.5" cy="362.2" r="1.25"/><circle cx="87.8" cy="355.9" r="1.25"/><circle cx="89.2" cy="359.0" r="1.25"/><circle cx="87.6" cy="358.7" r="1.25"/><circle cx="89.1" cy="359.3" r="1.25"/><circle cx="90.7" cy="358.3" r="1.25"/><circle cx="90.5" cy="357.9" r="1.25"/><circle cx="89.7" cy="358.1" r="1.25"/><circle cx="92.0" cy="352.8" r="1.25"/><circle cx="91.1" cy="353.7" r="1.25"/><circle cx="93.3" cy="352.7" r="1.25"/><circle cx="94.6" cy="352.2" r="1.25"/><circle cx="93.1" cy="355.7" r="1.25"/><circle cx="94.6" cy="350.5" r="1.25"/><circle cx="95.0" cy="352.9" r="1.25"/><circle cx="95.6" cy="353.6" r="1.25"/><circle cx="96.6" cy="347.4" r="1.25"/><circle cx="98.2" cy="348.1" r="1.25"/><circle cx="96.2" cy="346.5" r="1.25"/><circle cx="97.9" cy="350.5" r="1.25"/><circle cx="99.5" cy="346.9" r="1.25"/><circle cx="99.2" cy="346.0" r="1.25"/><circle cx="100.0" cy="346.9" r="1.25"/><circle cx="100.2" cy="344.8" r="1.25"/><circle cx="99.7" cy="344.4" r="1.25"/><circle cx="101.0" cy="347.0" r="1.25"/><circle cx="101.1" cy="345.7" r="1.25"/><circle cx="102.0" cy="348.3" r="1.25"/><circle cx="103.5" cy="346.8" r="1.25"/><circle cx="102.3" cy="345.7" r="1.25"/><circle cx="104.4" cy="348.2" r="1.25"/><circle cx="104.5" cy="346.4" r="1.25"/><circle cx="105.0" cy="347.2" r="1.25"/><circle cx="106.1" cy="349.8" r="1.25"/><circle cx="107.4" cy="345.4" r="1.25"/><circle cx="107.8" cy="346.5" r="1.25"/><circle cx="108.2" cy="345.0" r="1.25"/><circle cx="108.3" cy="347.7" r="1.25"/><circle cx="108.2" cy="350.2" r="1.25"/><circle cx="108.6" cy="353.8" r="1.25"/><circle cx="109.2" cy="354.1" r="1.25"/><circle cx="108.9" cy="355.6" r="1.25"/><circle cx="111.0" cy="350.9" r="1.25"/><circle cx="111.1" cy="352.4" r="1.25"/><circle cx="110.8" cy="351.1" r="1.25"/><circle cx="111.3" cy="351.0" r="1.25"/><circle cx="111.8" cy="357.9" r="1.25"/><circle cx="110.9" cy="348.5" r="1.25"/><circle cx="111.3" cy="352.0" r="1.25"/><circle cx="111.0" cy="356.7" r="1.25"/><circle cx="116.1" cy="354.3" r="1.25"/><circle cx="115.2" cy="356.3" r="1.25"/><circle cx="114.8" cy="353.8" r="1.25"/><circle cx="116.1" cy="353.0" r="1.25"/><circle cx="116.2" cy="356.8" r="1.25"/><circle cx="117.0" cy="353.9" r="1.25"/><circle cx="116.1" cy="359.3" r="1.25"/><circle cx="115.6" cy="355.4" r="1.25"/><circle cx="117.3" cy="355.0" r="1.25"/><circle cx="116.6" cy="360.5" r="1.25"/><circle cx="116.8" cy="359.6" r="1.25"/><circle cx="117.5" cy="356.2" r="1.25"/><circle cx="116.4" cy="359.3" r="1.25"/><circle cx="116.6" cy="357.2" r="1.25"/><circle cx="121.8" cy="358.3" r="1.25"/><circle cx="121.0" cy="362.0" r="1.25"/><circle cx="120.7" cy="364.6" r="1.25"/><circle cx="122.6" cy="362.2" r="1.25"/><circle cx="121.8" cy="361.8" r="1.25"/><circle cx="121.8" cy="357.6" r="1.25"/><circle cx="122.9" cy="363.6" r="1.25"/><circle cx="121.9" cy="364.4" r="1.25"/><circle cx="122.0" cy="362.3" r="1.25"/><circle cx="122.1" cy="360.8" r="1.25"/><circle cx="122.4" cy="365.7" r="1.25"/><circle cx="123.0" cy="361.0" r="1.25"/><circle cx="123.5" cy="363.2" r="1.25"/><circle cx="123.2" cy="360.6" r="1.25"/><circle cx="126.7" cy="367.4" r="1.25"/><circle cx="126.7" cy="369.4" r="1.25"/><circle cx="127.8" cy="364.1" r="1.25"/><circle cx="128.7" cy="363.7" r="1.25"/><circle cx="128.0" cy="363.9" r="1.25"/><circle cx="127.7" cy="364.6" r="1.25"/><circle cx="128.5" cy="366.7" r="1.25"/><circle cx="127.5" cy="365.8" r="1.25"/><circle cx="128.3" cy="365.0" r="1.25"/><circle cx="128.9" cy="367.8" r="1.25"/><circle cx="129.8" cy="365.9" r="1.25"/><circle cx="129.5" cy="367.6" r="1.25"/><circle cx="130.0" cy="369.8" r="1.25"/><circle cx="133.7" cy="375.0" r="1.25"/><circle cx="132.3" cy="369.0" r="1.25"/><circle cx="133.0" cy="374.1" r="1.25"/><circle cx="134.8" cy="373.8" r="1.25"/><circle cx="134.8" cy="369.4" r="1.25"/><circle cx="134.4" cy="370.2" r="1.25"/><circle cx="134.9" cy="370.3" r="1.25"/><circle cx="134.4" cy="375.6" r="1.25"/><circle cx="133.3" cy="371.4" r="1.25"/><circle cx="135.1" cy="373.2" r="1.25"/><circle cx="135.9" cy="374.5" r="1.25"/><circle cx="135.0" cy="376.5" r="1.25"/><circle cx="133.8" cy="372.9" r="1.25"/><circle cx="135.3" cy="369.6" r="1.25"/><circle cx="135.4" cy="374.7" r="1.25"/><circle cx="135.7" cy="370.6" r="1.25"/><circle cx="140.7" cy="378.6" r="1.25"/><circle cx="140.0" cy="371.7" r="1.25"/><circle cx="140.4" cy="376.9" r="1.25"/><circle cx="140.9" cy="375.7" r="1.25"/><circle cx="142.0" cy="376.0" r="1.25"/><circle cx="141.1" cy="374.5" r="1.25"/><circle cx="141.9" cy="375.7" r="1.25"/><circle cx="141.5" cy="375.6" r="1.25"/><circle cx="140.7" cy="377.6" r="1.25"/><circle cx="141.3" cy="380.9" r="1.25"/><circle cx="141.6" cy="381.2" r="1.25"/><circle cx="142.3" cy="379.2" r="1.25"/><circle cx="142.1" cy="378.9" r="1.25"/><circle cx="142.1" cy="377.4" r="1.25"/><circle cx="146.5" cy="381.0" r="1.25"/><circle cx="145.8" cy="377.8" r="1.25"/><circle cx="147.8" cy="380.8" r="1.25"/><circle cx="146.9" cy="379.0" r="1.25"/><circle cx="146.2" cy="383.0" r="1.25"/><circle cx="147.0" cy="381.1" r="1.25"/><circle cx="147.2" cy="380.8" r="1.25"/><circle cx="146.3" cy="382.4" r="1.25"/><circle cx="147.1" cy="383.9" r="1.25"/><circle cx="147.1" cy="386.2" r="1.25"/><circle cx="150.1" cy="387.7" r="1.25"/><circle cx="150.9" cy="390.2" r="1.25"/><circle cx="150.6" cy="391.3" r="1.25"/><circle cx="151.3" cy="391.5" r="1.25"/><circle cx="151.4" cy="385.6" r="1.25"/><circle cx="151.4" cy="389.1" r="1.25"/><circle cx="151.4" cy="389.8" r="1.25"/><circle cx="152.4" cy="391.5" r="1.25"/><circle cx="151.7" cy="389.7" r="1.25"/><circle cx="151.9" cy="393.2" r="1.25"/><circle cx="151.6" cy="387.7" r="1.25"/><circle cx="151.6" cy="386.0" r="1.25"/><circle cx="155.3" cy="391.1" r="1.25"/><circle cx="155.9" cy="391.1" r="1.25"/><circle cx="155.7" cy="397.8" r="1.25"/><circle cx="155.7" cy="393.4" r="1.25"/><circle cx="155.1" cy="396.0" r="1.25"/><circle cx="156.5" cy="395.0" r="1.25"/><circle cx="156.0" cy="395.1" r="1.25"/><circle cx="157.9" cy="393.2" r="1.25"/><circle cx="157.5" cy="397.6" r="1.25"/><circle cx="158.1" cy="392.6" r="1.25"/><circle cx="157.3" cy="395.7" r="1.25"/><circle cx="157.1" cy="398.5" r="1.25"/><circle cx="157.6" cy="394.3" r="1.25"/><circle cx="161.2" cy="399.5" r="1.25"/><circle cx="161.9" cy="402.6" r="1.25"/><circle cx="162.0" cy="401.9" r="1.25"/><circle cx="161.5" cy="395.8" r="1.25"/><circle cx="162.3" cy="398.9" r="1.25"/><circle cx="161.2" cy="400.1" r="1.25"/><circle cx="162.2" cy="401.3" r="1.25"/><circle cx="162.7" cy="402.0" r="1.25"/><circle cx="162.5" cy="403.6" r="1.25"/><circle cx="163.0" cy="399.1" r="1.25"/><circle cx="163.2" cy="399.0" r="1.25"/><circle cx="162.6" cy="402.0" r="1.25"/><circle cx="163.1" cy="399.1" r="1.25"/><circle cx="167.2" cy="405.6" r="1.25"/><circle cx="166.5" cy="404.5" r="1.25"/><circle cx="167.1" cy="406.0" r="1.25"/><circle cx="167.5" cy="407.3" r="1.25"/><circle cx="168.2" cy="406.6" r="1.25"/><circle cx="168.8" cy="402.9" r="1.25"/><circle cx="167.5" cy="408.5" r="1.25"/><circle cx="167.8" cy="405.2" r="1.25"/><circle cx="168.1" cy="407.8" r="1.25"/><circle cx="169.1" cy="403.7" r="1.25"/><circle cx="169.5" cy="402.9" r="1.25"/><circle cx="168.2" cy="410.5" r="1.25"/><circle cx="169.3" cy="405.3" r="1.25"/><circle cx="173.0" cy="407.7" r="1.25"/><circle cx="172.7" cy="410.5" r="1.25"/><circle cx="172.9" cy="407.6" r="1.25"/><circle cx="172.3" cy="408.6" r="1.25"/><circle cx="173.0" cy="411.2" r="1.25"/><circle cx="173.9" cy="414.0" r="1.25"/><circle cx="174.3" cy="413.4" r="1.25"/><circle cx="173.2" cy="411.7" r="1.25"/><circle cx="173.2" cy="411.1" r="1.25"/><circle cx="173.2" cy="414.0" r="1.25"/><circle cx="177.1" cy="415.0" r="1.25"/><circle cx="176.5" cy="415.5" r="1.25"/><circle cx="175.5" cy="421.1" r="1.25"/><circle cx="176.3" cy="420.7" r="1.25"/><circle cx="176.8" cy="418.8" r="1.25"/><circle cx="177.7" cy="416.1" r="1.25"/><circle cx="178.4" cy="417.4" r="1.25"/><circle cx="178.1" cy="422.8" r="1.25"/><circle cx="178.2" cy="422.7" r="1.25"/><circle cx="178.1" cy="415.4" r="1.25"/><circle cx="178.2" cy="419.6" r="1.25"/><circle cx="181.8" cy="425.3" r="1.25"/><circle cx="181.2" cy="426.7" r="1.25"/><circle cx="181.5" cy="425.6" r="1.25"/><circle cx="182.4" cy="423.6" r="1.25"/><circle cx="182.7" cy="427.3" r="1.25"/><circle cx="182.9" cy="423.7" r="1.25"/><circle cx="183.1" cy="422.6" r="1.25"/><circle cx="182.1" cy="427.8" r="1.25"/><circle cx="182.4" cy="425.9" r="1.25"/><circle cx="183.4" cy="421.9" r="1.25"/><circle cx="183.3" cy="428.0" r="1.25"/><circle cx="183.9" cy="422.8" r="1.25"/><circle cx="186.8" cy="431.8" r="1.25"/><circle cx="186.9" cy="431.6" r="1.25"/><circle cx="187.2" cy="426.6" r="1.25"/><circle cx="187.6" cy="430.8" r="1.25"/><circle cx="187.4" cy="427.2" r="1.25"/><circle cx="186.5" cy="432.4" r="1.25"/><circle cx="188.6" cy="432.6" r="1.25"/><circle cx="188.8" cy="434.0" r="1.25"/><circle cx="187.6" cy="431.0" r="1.25"/><circle cx="187.6" cy="428.5" r="1.25"/><circle cx="189.1" cy="434.5" r="1.25"/><circle cx="189.5" cy="432.7" r="1.25"/><circle cx="192.4" cy="433.2" r="1.25"/><circle cx="191.9" cy="433.0" r="1.25"/><circle cx="192.8" cy="436.0" r="1.25"/><circle cx="193.4" cy="439.4" r="1.25"/><circle cx="193.1" cy="437.2" r="1.25"/><circle cx="193.2" cy="439.6" r="1.25"/><circle cx="193.6" cy="434.3" r="1.25"/><circle cx="193.4" cy="436.4" r="1.25"/><circle cx="193.7" cy="440.1" r="1.25"/><circle cx="194.1" cy="437.7" r="1.25"/><circle cx="195.1" cy="440.2" r="1.25"/><circle cx="195.0" cy="437.6" r="1.25"/><circle cx="194.3" cy="438.9" r="1.25"/><circle cx="198.0" cy="439.0" r="1.25"/><circle cx="199.0" cy="439.5" r="1.25"/><circle cx="199.1" cy="443.3" r="1.25"/><circle cx="198.6" cy="441.9" r="1.25"/><circle cx="198.3" cy="442.6" r="1.25"/><circle cx="198.4" cy="441.1" r="1.25"/><circle cx="199.4" cy="442.8" r="1.25"/></g>
<rect x="48" y="316.1" width="167.4" height="128.6" fill="none" stroke="rgba(40,36,60,0.45)" stroke-width="1.0"/>
<text x="48" y="454.7" font-size="8.7" font-family="'Liberation Sans', sans-serif" text-anchor="middle">0</text>
<text x="81.5" y="454.7" font-size="8.7" font-family="'Liberation Sans', sans-serif" text-anchor="middle">5</text>
<text x="115" y="454.7" font-size="8.7" font-family="'Liberation Sans', sans-serif" text-anchor="middle">10</text>
<text x="148.4" y="454.7" font-size="8.7" font-family="'Liberation Sans', sans-serif" text-anchor="middle">15</text>
<text x="181.9" y="454.7" font-size="8.7" font-family="'Liberation Sans', sans-serif" text-anchor="middle">20</text>
<text x="215.4" y="454.7" font-size="8.7" font-family="'Liberation Sans', sans-serif" text-anchor="middle">25</text>
<text x="45.2" y="432.4" font-size="8.7" font-family="'Liberation Sans', sans-serif" text-anchor="end">300</text>
<text x="45.2" y="394.6" font-size="8.7" font-family="'Liberation Sans', sans-serif" text-anchor="end">400</text>
<text x="45.2" y="356.8" font-size="8.7" font-family="'Liberation Sans', sans-serif" text-anchor="end">500</text>
<text x="45.2" y="319" font-size="8.7" font-family="'Liberation Sans', sans-serif" text-anchor="end">600</text>
<text x="98.2" y="309.1" font-size="11" font-family="'Liberation Serif', serif" textLength="63.0" lengthAdjust="spacingAndGlyphs">Heating, 6 μm</text>
<text x="115.5" y="333.1" font-size="9.1" font-family="'Liberation Serif', serif" font-weight="bold" textLength="26.6" lengthAdjust="spacingAndGlyphs" stroke="#000" stroke-width="0.3">N - Iso</text>
<text x="73.2" y="466.6" font-size="10.0" font-family="'Liberation Sans', sans-serif" textLength="117.0" lengthAdjust="spacingAndGlyphs">Time of N - I coexistence, s</text>
<text transform="translate(20.9,375.5) rotate(-90)" x="0" y="0" font-size="10.2" font-family="'Liberation Sans', sans-serif" text-anchor="middle" textLength="102.6" lengthAdjust="spacingAndGlyphs">Structural heterogeneity</text>
<rect x="280.6" y="316.1" width="167.4" height="128.6" fill="#daf4b8"/>
<path d="M280.6 444.7v-2.5M294.6 444.7v-1.5M308.5 444.7v-2.5M322.5 444.7v-1.5M336.4 444.7v-2.5M350.4 444.7v-1.5M364.3 444.7v-2.5M378.2 444.7v-1.5M392.2 444.7v-2.5M406.2 444.7v-1.5M420.1 444.7v-2.5M434.1 444.7v-1.5M448 444.7v-2.5M280.6 441.1h1.5M280.6 423.3h2.5M280.6 405.4h1.5M280.6 387.5h2.5M280.6 369.7h1.5M280.6 351.8h2.5M280.6 334h1.5M280.6 316.1h2.5" stroke="#555" stroke-width="0.7" fill="none"/>
<g fill="none" stroke="#000" stroke-width="1.05"><circle cx="280.3" cy="430.9" r="1.25"/><circle cx="281.8" cy="423.9" r="1.25"/><circle cx="283.0" cy="419.8" r="1.25"/><circle cx="282.8" cy="421.4" r="1.25"/><circle cx="284.1" cy="418.3" r="1.25"/><circle cx="284.5" cy="421.4" r="1.25"/><circle cx="285.1" cy="416.4" r="1.25"/><circle cx="285.5" cy="413.9" r="1.25"/><circle cx="286.2" cy="419.1" r="1.25"/><circle cx="286.3" cy="413.4" r="1.25"/><circle cx="286.2" cy="415.9" r="1.25"/><circle cx="287.5" cy="416.6" r="1.25"/><circle cx="288.3" cy="411.4" r="1.25"/><circle cx="288.5" cy="410.0" r="1.25"/><circle cx="288.9" cy="410.8" r="1.25"/><circle cx="290.4" cy="414.3" r="1.25"/><circle cx="289.3" cy="413.7" r="1.25"/><circle cx="290.4" cy="418.0" r="1.25"/><circle cx="291.4" cy="410.8" r="1.25"/><circle cx="290.9" cy="420.1" r="1.25"/><circle cx="292.5" cy="419.9" r="1.25"/><circle cx="292.1" cy="410.9" r="1.25"/><circle cx="292.2" cy="419.8" r="1.25"/><circle cx="292.4" cy="411.7" r="1.25"/><circle cx="293.2" cy="421.2" r="1.25"/><circle cx="295.2" cy="416.2" r="1.25"/><circle cx="295.1" cy="415.2" r="1.25"/><circle cx="295.1" cy="414.8" r="1.25"/><circle cx="294.6" cy="415.5" r="1.25"/><circle cx="296.3" cy="418.7" r="1.25"/><circle cx="297.3" cy="414.8" r="1.25"/><circle cx="297.7" cy="416.1" r="1.25"/><circle cx="298.3" cy="405.1" r="1.25"/><circle cx="297.9" cy="410.9" r="1.25"/><circle cx="298.9" cy="411.8" r="1.25"/><circle cx="300.1" cy="406.6" r="1.25"/><circle cx="299.8" cy="401.2" r="1.25"/><circle cx="301.5" cy="406.1" r="1.25"/><circle cx="300.7" cy="401.4" r="1.25"/><circle cx="303.0" cy="397.9" r="1.25"/><circle cx="302.5" cy="401.3" r="1.25"/><circle cx="303.8" cy="397.0" r="1.25"/><circle cx="303.7" cy="396.0" r="1.25"/><circle cx="305.2" cy="396.6" r="1.25"/><circle cx="305.4" cy="393.4" r="1.25"/><circle cx="305.5" cy="387.6" r="1.25"/><circle cx="305.8" cy="386.0" r="1.25"/><circle cx="308.7" cy="380.3" r="1.25"/><circle cx="307.7" cy="378.7" r="1.25"/><circle cx="308.7" cy="378.2" r="1.25"/><circle cx="308.8" cy="375.7" r="1.25"/><circle cx="310.4" cy="373.0" r="1.25"/><circle cx="312.3" cy="371.0" r="1.25"/><circle cx="311.8" cy="367.3" r="1.25"/><circle cx="312.5" cy="367.7" r="1.25"/><circle cx="314.3" cy="366.0" r="1.25"/><circle cx="314.1" cy="361.8" r="1.25"/><circle cx="314.6" cy="363.0" r="1.25"/><circle cx="315.1" cy="357.1" r="1.25"/><circle cx="316.6" cy="354.5" r="1.25"/><circle cx="317.1" cy="357.2" r="1.25"/><circle cx="316.4" cy="355.5" r="1.25"/><circle cx="318.1" cy="351.4" r="1.25"/><circle cx="318.9" cy="351.7" r="1.25"/><circle cx="318.4" cy="349.3" r="1.25"/><circle cx="319.0" cy="349.9" r="1.25"/><circle cx="318.9" cy="348.7" r="1.25"/><circle cx="320.0" cy="349.7" r="1.25"/><circle cx="321.3" cy="352.3" r="1.25"/><circle cx="320.4" cy="351.1" r="1.25"/><circle cx="322.1" cy="347.3" r="1.25"/><circle cx="321.9" cy="346.6" r="1.25"/><circle cx="322.0" cy="351.5" r="1.25"/><circle cx="323.4" cy="347.3" r="1.25"/><circle cx="322.8" cy="348.8" r="1.25"/><circle cx="323.7" cy="348.7" r="1.25"/><circle cx="324.2" cy="351.1" r="1.25"/><circle cx="325.1" cy="347.3" r="1.25"/><circle cx="324.4" cy="351.0" r="1.25"/><circle cx="325.4" cy="347.6" r="1.25"/><circle cx="325.4" cy="344.7" r="1.25"/><circle cx="325.9" cy="347.0" r="1.25"/><circle cx="327.6" cy="346.8" r="1.25"/><circle cx="327.5" cy="346.4" r="1.25"/><circle cx="328.5" cy="344.6" r="1.25"/><circle cx="326.2" cy="345.8" r="1.25"/><circle cx="328.0" cy="349.7" r="1.25"/><circle cx="328.5" cy="344.1" r="1.25"/><circle cx="328.8" cy="352.6" r="1.25"/><circle cx="329.9" cy="341.5" r="1.25"/><circle cx="329.7" cy="346.7" r="1.25"/><circle cx="330.9" cy="351.9" r="1.25"/><circle cx="330.8" cy="345.3" r="1.25"/><circle cx="331.0" cy="342.3" r="1.25"/><circle cx="330.5" cy="347.6" r="1.25"/><circle cx="332.1" cy="347.0" r="1.25"/><circle cx="331.9" cy="349.3" r="1.25"/><circle cx="332.6" cy="345.6" r="1.25"/><circle cx="332.5" cy="352.3" r="1.25"/><circle cx="333.5" cy="341.2" r="1.25"/><circle cx="334.0" cy="346.3" r="1.25"/><circle cx="334.5" cy="349.2" r="1.25"/><circle cx="333.9" cy="348.3" r="1.25"/><circle cx="335.9" cy="349.8" r="1.25"/><circle cx="336.2" cy="352.7" r="1.25"/><circle cx="337.1" cy="348.1" r="1.25"/><circle cx="336.9" cy="346.4" r="1.25"/><circle cx="336.5" cy="347.5" r="1.25"/><circle cx="337.2" cy="351.8" r="1.25"/><circle cx="337.1" cy="355.7" r="1.25"/><circle cx="337.0" cy="348.4" r="1.25"/><circle cx="338.2" cy="353.7" r="1.25"/><circle cx="338.4" cy="345.5" r="1.25"/><circle cx="339.5" cy="350.2" r="1.25"/><circle cx="338.2" cy="350.2" r="1.25"/><circle cx="339.9" cy="346.5" r="1.25"/><circle cx="339.6" cy="353.8" r="1.25"/><circle cx="340.2" cy="353.9" r="1.25"/><circle cx="341.3" cy="345.5" r="1.25"/><circle cx="340.1" cy="343.9" r="1.25"/><circle cx="341.1" cy="353.8" r="1.25"/><circle cx="341.7" cy="353.4" r="1.25"/><circle cx="343.0" cy="342.3" r="1.25"/><circle cx="342.9" cy="350.3" r="1.25"/><circle cx="343.1" cy="350.5" r="1.25"/><circle cx="344.5" cy="352.8" r="1.25"/><circle cx="344.5" cy="346.8" r="1.25"/><circle cx="344.8" cy="345.1" r="1.25"/><circle cx="346.4" cy="351.6" r="1.25"/><circle cx="345.2" cy="343.8" r="1.25"/><circle cx="345.1" cy="353.5" r="1.25"/><circle cx="345.2" cy="344.0" r="1.25"/><circle cx="347.3" cy="353.7" r="1.25"/><circle cx="346.7" cy="344.4" r="1.25"/><circle cx="347.4" cy="351.4" r="1.25"/><circle cx="347.8" cy="346.9" r="1.25"/><circle cx="348.2" cy="346.8" r="1.25"/><circle cx="347.5" cy="355.2" r="1.25"/><circle cx="349.1" cy="350.5" r="1.25"/><circle cx="350.2" cy="348.2" r="1.25"/><circle cx="349.9" cy="349.8" r="1.25"/><circle cx="350.2" cy="352.8" r="1.25"/><circle cx="350.6" cy="355.8" r="1.25"/><circle cx="350.7" cy="349.7" r="1.25"/><circle cx="350.5" cy="349.2" r="1.25"/><circle cx="351.8" cy="351.9" r="1.25"/><circle cx="352.3" cy="354.0" r="1.25"/><circle cx="352.3" cy="348.9" r="1.25"/><circle cx="353.1" cy="354.1" r="1.25"/><circle cx="352.9" cy="353.9" r="1.25"/><circle cx="353.3" cy="353.3" r="1.25"/><circle cx="354.0" cy="351.9" r="1.25"/><circle cx="355.0" cy="352.6" r="1.25"/><circle cx="355.6" cy="348.5" r="1.25"/><circle cx="354.9" cy="349.5" r="1.25"/><circle cx="355.8" cy="355.0" r="1.25"/><circle cx="355.3" cy="357.0" r="1.25"/><circle cx="357.1" cy="356.0" r="1.25"/><circle cx="357.5" cy="351.0" r="1.25"/><circle cx="358.4" cy="353.3" r="1.25"/><circle cx="358.9" cy="356.0" r="1.25"/><circle cx="358.9" cy="354.3" r="1.25"/><circle cx="358.8" cy="355.1" r="1.25"/><circle cx="358.7" cy="357.2" r="1.25"/><circle cx="359.1" cy="355.7" r="1.25"/><circle cx="359.6" cy="361.1" r="1.25"/><circle cx="361.6" cy="356.2" r="1.25"/><circle cx="361.6" cy="354.9" r="1.25"/><circle cx="361.7" cy="356.8" r="1.25"/><circle cx="361.5" cy="357.8" r="1.25"/><circle cx="361.5" cy="356.2" r="1.25"/><circle cx="362.8" cy="361.9" r="1.25"/><circle cx="362.8" cy="357.7" r="1.25"/><circle cx="362.3" cy="361.8" r="1.25"/><circle cx="363.0" cy="358.4" r="1.25"/><circle cx="364.2" cy="361.0" r="1.25"/><circle cx="365.5" cy="359.4" r="1.25"/><circle cx="365.0" cy="361.6" r="1.25"/><circle cx="365.1" cy="362.2" r="1.25"/><circle cx="365.9" cy="354.5" r="1.25"/><circle cx="366.5" cy="357.9" r="1.25"/><circle cx="365.8" cy="360.3" r="1.25"/><circle cx="366.9" cy="360.0" r="1.25"/><circle cx="368.0" cy="360.8" r="1.25"/><circle cx="366.2" cy="358.0" r="1.25"/><circle cx="367.0" cy="356.5" r="1.25"/><circle cx="372.0" cy="361.0" r="1.25"/><circle cx="371.2" cy="363.7" r="1.25"/><circle cx="372.9" cy="363.8" r="1.25"/><circle cx="371.7" cy="360.1" r="1.25"/><circle cx="372.0" cy="362.6" r="1.25"/><circle cx="371.3" cy="358.7" r="1.25"/><circle cx="372.7" cy="364.1" r="1.25"/><circle cx="372.1" cy="365.9" r="1.25"/><circle cx="371.5" cy="365.5" r="1.25"/><circle cx="372.8" cy="361.2" r="1.25"/><circle cx="373.2" cy="362.4" r="1.25"/><circle cx="373.3" cy="361.2" r="1.25"/><circle cx="376.3" cy="367.8" r="1.25"/><circle cx="376.2" cy="370.6" r="1.25"/><circle cx="375.3" cy="367.6" r="1.25"/><circle cx="376.6" cy="368.3" r="1.25"/><circle cx="376.6" cy="369.1" r="1.25"/><circle cx="376.8" cy="371.0" r="1.25"/><circle cx="377.1" cy="370.3" r="1.25"/><circle cx="376.6" cy="366.5" r="1.25"/><circle cx="377.3" cy="370.4" r="1.25"/><circle cx="378.6" cy="366.7" r="1.25"/><circle cx="377.6" cy="368.9" r="1.25"/><circle cx="378.2" cy="367.5" r="1.25"/><circle cx="378.2" cy="369.1" r="1.25"/><circle cx="382.2" cy="375.8" r="1.25"/><circle cx="381.9" cy="375.7" r="1.25"/><circle cx="383.1" cy="371.1" r="1.25"/><circle cx="381.9" cy="370.4" r="1.25"/><circle cx="382.7" cy="371.2" r="1.25"/><circle cx="383.1" cy="371.1" r="1.25"/><circle cx="383.0" cy="372.6" r="1.25"/><circle cx="383.8" cy="376.4" r="1.25"/><circle cx="383.3" cy="373.0" r="1.25"/><circle cx="383.7" cy="375.3" r="1.25"/><circle cx="382.7" cy="374.4" r="1.25"/><circle cx="383.6" cy="375.4" r="1.25"/><circle cx="384.2" cy="376.5" r="1.25"/><circle cx="384.3" cy="376.4" r="1.25"/><circle cx="386.1" cy="380.2" r="1.25"/><circle cx="387.8" cy="381.2" r="1.25"/><circle cx="387.5" cy="380.4" r="1.25"/><circle cx="387.7" cy="381.1" r="1.25"/><circle cx="388.3" cy="380.1" r="1.25"/><circle cx="387.0" cy="379.9" r="1.25"/><circle cx="389.1" cy="380.0" r="1.25"/><circle cx="388.9" cy="378.2" r="1.25"/><circle cx="388.4" cy="378.0" r="1.25"/><circle cx="391.6" cy="385.5" r="1.25"/><circle cx="391.6" cy="382.0" r="1.25"/><circle cx="391.0" cy="385.6" r="1.25"/><circle cx="390.5" cy="385.6" r="1.25"/><circle cx="391.8" cy="385.8" r="1.25"/><circle cx="392.0" cy="387.9" r="1.25"/><circle cx="392.6" cy="388.7" r="1.25"/><circle cx="392.8" cy="383.8" r="1.25"/><circle cx="392.3" cy="381.3" r="1.25"/><circle cx="393.5" cy="386.9" r="1.25"/><circle cx="392.9" cy="388.8" r="1.25"/><circle cx="396.2" cy="387.9" r="1.25"/><circle cx="395.6" cy="386.1" r="1.25"/><circle cx="396.9" cy="395.3" r="1.25"/><circle cx="396.8" cy="393.5" r="1.25"/><circle cx="397.2" cy="386.8" r="1.25"/><circle cx="396.7" cy="392.0" r="1.25"/><circle cx="397.1" cy="391.5" r="1.25"/><circle cx="396.7" cy="391.7" r="1.25"/><circle cx="397.4" cy="392.6" r="1.25"/><circle cx="396.4" cy="395.4" r="1.25"/><circle cx="398.0" cy="392.5" r="1.25"/><circle cx="400.2" cy="400.2" r="1.25"/><circle cx="401.6" cy="398.1" r="1.25"/><circle cx="400.8" cy="395.0" r="1.25"/><circle cx="400.9" cy="395.4" r="1.25"/><circle cx="401.2" cy="399.1" r="1.25"/><circle cx="400.8" cy="398.9" r="1.25"/><circle cx="401.3" cy="395.1" r="1.25"/><circle cx="401.1" cy="399.8" r="1.25"/><circle cx="402.1" cy="395.1" r="1.25"/><circle cx="403.1" cy="405.0" r="1.25"/><circle cx="404.0" cy="407.2" r="1.25"/><circle cx="404.4" cy="402.1" r="1.25"/><circle cx="403.5" cy="404.9" r="1.25"/><circle cx="405.0" cy="406.1" r="1.25"/><circle cx="404.2" cy="403.2" r="1.25"/><circle cx="405.5" cy="408.0" r="1.25"/><circle cx="405.3" cy="406.9" r="1.25"/><circle cx="406.2" cy="406.5" r="1.25"/><circle cx="407.9" cy="411.0" r="1.25"/><circle cx="408.1" cy="407.2" r="1.25"/><circle cx="406.9" cy="410.2" r="1.25"/><circle cx="408.6" cy="410.1" r="1.25"/><circle cx="408.4" cy="409.5" r="1.25"/><circle cx="407.8" cy="412.8" r="1.25"/><circle cx="408.5" cy="413.0" r="1.25"/><circle cx="409.0" cy="409.1" r="1.25"/><circle cx="409.7" cy="412.6" r="1.25"/><circle cx="410.6" cy="417.5" r="1.25"/><circle cx="411.3" cy="415.9" r="1.25"/><circle cx="411.8" cy="414.0" r="1.25"/><circle cx="412.5" cy="421.0" r="1.25"/><circle cx="411.8" cy="415.0" r="1.25"/><circle cx="412.4" cy="416.5" r="1.25"/><circle cx="411.5" cy="416.0" r="1.25"/><circle cx="411.9" cy="420.6" r="1.25"/><circle cx="413.7" cy="415.5" r="1.25"/><circle cx="414.4" cy="420.3" r="1.25"/><circle cx="415.3" cy="424.6" r="1.25"/><circle cx="415.5" cy="421.4" r="1.25"/><circle cx="415.7" cy="422.9" r="1.25"/><circle cx="415.4" cy="424.5" r="1.25"/><circle cx="416.0" cy="420.8" r="1.25"/><circle cx="416.2" cy="421.7" r="1.25"/><circle cx="417.1" cy="422.0" r="1.25"/><circle cx="417.0" cy="420.9" r="1.25"/><circle cx="418.0" cy="424.9" r="1.25"/><circle cx="419.0" cy="427.8" r="1.25"/><circle cx="419.8" cy="431.9" r="1.25"/><circle cx="419.8" cy="428.9" r="1.25"/><circle cx="420.7" cy="427.1" r="1.25"/><circle cx="420.3" cy="430.1" r="1.25"/><circle cx="420.0" cy="431.8" r="1.25"/><circle cx="420.6" cy="431.3" r="1.25"/><circle cx="420.4" cy="427.0" r="1.25"/><circle cx="421.1" cy="427.3" r="1.25"/><circle cx="423.1" cy="432.4" r="1.25"/><circle cx="423.1" cy="433.9" r="1.25"/><circle cx="424.7" cy="433.4" r="1.25"/><circle cx="424.2" cy="436.1" r="1.25"/><circle cx="424.9" cy="435.4" r="1.25"/><circle cx="425.9" cy="435.3" r="1.25"/><circle cx="424.9" cy="434.0" r="1.25"/></g>
<rect x="280.6" y="316.1" width="167.4" height="128.6" fill="none" stroke="rgba(40,36,60,0.45)" stroke-width="1.0"/>
<text x="280.6" y="454.7" font-size="8.7" font-family="'Liberation Sans', sans-serif" text-anchor="middle">0</text>
<text x="308.5" y="454.7" font-size="8.7" font-family="'Liberation Sans', sans-serif" text-anchor="middle">5</text>
<text x="336.4" y="454.7" font-size="8.7" font-family="'Liberation Sans', sans-serif" text-anchor="middle">10</text>
<text x="364.3" y="454.7" font-size="8.7" font-family="'Liberation Sans', sans-serif" text-anchor="middle">15</text>
<text x="392.2" y="454.7" font-size="8.7" font-family="'Liberation Sans', sans-serif" text-anchor="middle">20</text>
<text x="420.1" y="454.7" font-size="8.7" font-family="'Liberation Sans', sans-serif" text-anchor="middle">25</text>
<text x="448" y="454.7" font-size="8.7" font-family="'Liberation Sans', sans-serif" text-anchor="middle">30</text>
<text x="277.8" y="426.1" font-size="8.7" font-family="'Liberation Sans', sans-serif" text-anchor="end">150</text>
<text x="277.8" y="390.4" font-size="8.7" font-family="'Liberation Sans', sans-serif" text-anchor="end">200</text>
<text x="277.8" y="354.7" font-size="8.7" font-family="'Liberation Sans', sans-serif" text-anchor="end">250</text>
<text x="277.8" y="319" font-size="8.7" font-family="'Liberation Sans', sans-serif" text-anchor="end">300</text>
<text x="327.6" y="309.1" font-size="11" font-family="'Liberation Serif', serif" textLength="68.9" lengthAdjust="spacingAndGlyphs">Heating, 20 μm</text>
<text x="348.2" y="333.1" font-size="9.1" font-family="'Liberation Serif', serif" font-weight="bold" textLength="26.8" lengthAdjust="spacingAndGlyphs" stroke="#000" stroke-width="0.3">N - Iso</text>
<text x="305.6" y="466.6" font-size="10.0" font-family="'Liberation Sans', sans-serif" textLength="117.0" lengthAdjust="spacingAndGlyphs">Time of N - I coexistence, s</text>
<text transform="translate(253.5,375.5) rotate(-90)" x="0" y="0" font-size="10.2" font-family="'Liberation Sans', sans-serif" text-anchor="middle" textLength="102.6" lengthAdjust="spacingAndGlyphs">Structural heterogeneity</text>
<rect x="513.4" y="316.1" width="167.4" height="128.6" fill="#daf4b8"/>
<path d="M513.4 444.7v-2.5M530.1 444.7v-1.5M546.9 444.7v-2.5M563.6 444.7v-1.5M580.4 444.7v-2.5M597.1 444.7v-1.5M613.8 444.7v-2.5M630.6 444.7v-1.5M647.3 444.7v-2.5M664.1 444.7v-1.5M680.8 444.7v-2.5M513.4 444.7h1.5M513.4 433h2.5M513.4 421.3h1.5M513.4 409.6h2.5M513.4 397.9h1.5M513.4 386.2h2.5M513.4 374.6h1.5M513.4 362.9h2.5M513.4 351.2h1.5M513.4 339.5h2.5M513.4 327.8h1.5M513.4 316.1h2.5" stroke="#555" stroke-width="0.7" fill="none"/>
<g fill="none" stroke="#000" stroke-width="0.85"><circle cx="515.2" cy="430.2" r="1.5"/><circle cx="516.0" cy="434.9" r="1.5"/><circle cx="515.9" cy="433.8" r="1.5"/><circle cx="516.3" cy="433.1" r="1.5"/><circle cx="516.9" cy="430.6" r="1.5"/><circle cx="517.7" cy="429.9" r="1.5"/><circle cx="517.9" cy="431.9" r="1.5"/><circle cx="518.0" cy="433.1" r="1.5"/><circle cx="519.0" cy="424.3" r="1.5"/><circle cx="519.1" cy="422.1" r="1.5"/><circle cx="519.2" cy="426.9" r="1.5"/><circle cx="519.2" cy="427.1" r="1.5"/><circle cx="519.6" cy="422.9" r="1.5"/><circle cx="520.6" cy="422.9" r="1.5"/><circle cx="521.7" cy="423.0" r="1.5"/><circle cx="521.4" cy="425.2" r="1.5"/><circle cx="521.3" cy="420.8" r="1.5"/><circle cx="522.5" cy="415.7" r="1.5"/><circle cx="523.6" cy="420.1" r="1.5"/><circle cx="523.4" cy="413.5" r="1.5"/><circle cx="523.3" cy="414.7" r="1.5"/><circle cx="523.7" cy="418.7" r="1.5"/><circle cx="523.7" cy="421.6" r="1.5"/><circle cx="525.1" cy="416.9" r="1.5"/><circle cx="525.6" cy="414.7" r="1.5"/><circle cx="525.2" cy="413.1" r="1.5"/><circle cx="525.9" cy="409.5" r="1.5"/><circle cx="526.5" cy="410.4" r="1.5"/><circle cx="527.0" cy="413.9" r="1.5"/><circle cx="526.1" cy="414.2" r="1.5"/><circle cx="526.9" cy="409.3" r="1.5"/><circle cx="527.5" cy="410.4" r="1.5"/><circle cx="528.1" cy="406.2" r="1.5"/><circle cx="528.8" cy="403.4" r="1.5"/><circle cx="528.2" cy="409.7" r="1.5"/><circle cx="529.1" cy="406.8" r="1.5"/><circle cx="530.6" cy="409.4" r="1.5"/><circle cx="530.3" cy="403.5" r="1.5"/><circle cx="530.8" cy="404.0" r="1.5"/><circle cx="530.7" cy="403.9" r="1.5"/><circle cx="531.4" cy="401.6" r="1.5"/><circle cx="532.2" cy="399.6" r="1.5"/><circle cx="531.7" cy="401.6" r="1.5"/><circle cx="532.7" cy="399.7" r="1.5"/><circle cx="533.1" cy="399.8" r="1.5"/><circle cx="534.4" cy="399.9" r="1.5"/><circle cx="534.3" cy="398.1" r="1.5"/><circle cx="534.9" cy="400.0" r="1.5"/><circle cx="534.6" cy="393.8" r="1.5"/><circle cx="535.4" cy="397.9" r="1.5"/><circle cx="534.9" cy="395.5" r="1.5"/><circle cx="535.6" cy="398.0" r="1.5"/><circle cx="536.4" cy="397.4" r="1.5"/><circle cx="535.8" cy="395.6" r="1.5"/><circle cx="537.4" cy="393.2" r="1.5"/><circle cx="537.8" cy="392.2" r="1.5"/><circle cx="538.0" cy="394.6" r="1.5"/><circle cx="538.6" cy="396.7" r="1.5"/><circle cx="538.1" cy="394.3" r="1.5"/><circle cx="539.3" cy="394.8" r="1.5"/><circle cx="539.3" cy="395.6" r="1.5"/><circle cx="539.4" cy="401.2" r="1.5"/><circle cx="539.8" cy="399.0" r="1.5"/><circle cx="540.9" cy="401.7" r="1.5"/><circle cx="540.5" cy="398.3" r="1.5"/><circle cx="542.2" cy="405.6" r="1.5"/><circle cx="542.2" cy="407.2" r="1.5"/><circle cx="542.1" cy="404.2" r="1.5"/><circle cx="542.6" cy="406.8" r="1.5"/><circle cx="543.4" cy="407.3" r="1.5"/><circle cx="543.5" cy="398.6" r="1.5"/><circle cx="543.8" cy="404.0" r="1.5"/><circle cx="545.1" cy="398.3" r="1.5"/><circle cx="544.8" cy="400.0" r="1.5"/><circle cx="545.3" cy="398.0" r="1.5"/><circle cx="545.7" cy="406.8" r="1.5"/><circle cx="547.0" cy="399.0" r="1.5"/><circle cx="546.8" cy="407.9" r="1.5"/><circle cx="547.2" cy="404.0" r="1.5"/><circle cx="547.4" cy="399.8" r="1.5"/><circle cx="548.6" cy="400.0" r="1.5"/><circle cx="549.1" cy="402.2" r="1.5"/><circle cx="548.5" cy="405.6" r="1.5"/><circle cx="549.2" cy="406.2" r="1.5"/><circle cx="550.2" cy="402.5" r="1.5"/><circle cx="550.5" cy="403.8" r="1.5"/><circle cx="550.9" cy="400.9" r="1.5"/><circle cx="551.2" cy="402.6" r="1.5"/><circle cx="551.7" cy="400.0" r="1.5"/><circle cx="551.7" cy="399.3" r="1.5"/><circle cx="553.0" cy="402.6" r="1.5"/><circle cx="553.2" cy="405.0" r="1.5"/><circle cx="553.6" cy="404.1" r="1.5"/><circle cx="554.0" cy="404.6" r="1.5"/><circle cx="554.6" cy="401.2" r="1.5"/><circle cx="554.5" cy="395.1" r="1.5"/><circle cx="555.4" cy="403.1" r="1.5"/><circle cx="555.6" cy="398.8" r="1.5"/><circle cx="555.8" cy="402.0" r="1.5"/><circle cx="556.1" cy="403.4" r="1.5"/><circle cx="556.9" cy="404.0" r="1.5"/><circle cx="557.2" cy="398.5" r="1.5"/><circle cx="557.8" cy="400.3" r="1.5"/><circle cx="557.8" cy="403.2" r="1.5"/><circle cx="559.1" cy="400.5" r="1.5"/><circle cx="559.5" cy="395.1" r="1.5"/><circle cx="558.6" cy="397.0" r="1.5"/><circle cx="559.9" cy="397.6" r="1.5"/><circle cx="560.6" cy="400.9" r="1.5"/><circle cx="560.5" cy="398.2" r="1.5"/><circle cx="562.0" cy="404.9" r="1.5"/><circle cx="561.4" cy="399.8" r="1.5"/><circle cx="561.9" cy="400.5" r="1.5"/><circle cx="562.9" cy="401.3" r="1.5"/><circle cx="562.7" cy="400.5" r="1.5"/><circle cx="563.4" cy="394.8" r="1.5"/><circle cx="563.9" cy="405.4" r="1.5"/><circle cx="564.1" cy="398.8" r="1.5"/><circle cx="564.4" cy="396.5" r="1.5"/><circle cx="564.9" cy="403.3" r="1.5"/><circle cx="565.5" cy="400.8" r="1.5"/><circle cx="566.3" cy="402.8" r="1.5"/><circle cx="566.3" cy="403.9" r="1.5"/><circle cx="567.1" cy="403.7" r="1.5"/><circle cx="567.1" cy="394.4" r="1.5"/><circle cx="567.6" cy="406.6" r="1.5"/><circle cx="568.7" cy="403.6" r="1.5"/><circle cx="568.3" cy="402.3" r="1.5"/><circle cx="569.2" cy="395.1" r="1.5"/><circle cx="569.6" cy="404.2" r="1.5"/><circle cx="570.7" cy="400.6" r="1.5"/><circle cx="569.8" cy="398.1" r="1.5"/><circle cx="570.7" cy="400.0" r="1.5"/><circle cx="571.5" cy="401.2" r="1.5"/><circle cx="571.6" cy="404.6" r="1.5"/><circle cx="572.2" cy="400.8" r="1.5"/><circle cx="571.9" cy="397.9" r="1.5"/><circle cx="573.0" cy="397.4" r="1.5"/><circle cx="573.2" cy="404.1" r="1.5"/><circle cx="574.0" cy="404.0" r="1.5"/><circle cx="574.4" cy="400.0" r="1.5"/><circle cx="574.2" cy="401.9" r="1.5"/><circle cx="574.7" cy="397.4" r="1.5"/><circle cx="574.7" cy="399.7" r="1.5"/><circle cx="576.0" cy="400.3" r="1.5"/><circle cx="576.4" cy="404.9" r="1.5"/><circle cx="576.8" cy="401.7" r="1.5"/><circle cx="577.0" cy="398.0" r="1.5"/><circle cx="577.8" cy="405.0" r="1.5"/><circle cx="578.5" cy="399.4" r="1.5"/><circle cx="578.5" cy="398.3" r="1.5"/><circle cx="579.0" cy="401.6" r="1.5"/><circle cx="579.5" cy="406.4" r="1.5"/><circle cx="580.3" cy="402.3" r="1.5"/><circle cx="580.1" cy="401.9" r="1.5"/><circle cx="580.2" cy="402.7" r="1.5"/><circle cx="580.8" cy="401.8" r="1.5"/><circle cx="581.8" cy="406.4" r="1.5"/><circle cx="581.6" cy="402.2" r="1.5"/><circle cx="582.3" cy="398.8" r="1.5"/><circle cx="582.7" cy="397.8" r="1.5"/><circle cx="583.3" cy="403.8" r="1.5"/><circle cx="583.5" cy="403.0" r="1.5"/><circle cx="584.1" cy="402.4" r="1.5"/><circle cx="584.2" cy="404.6" r="1.5"/><circle cx="585.6" cy="400.2" r="1.5"/><circle cx="586.2" cy="395.6" r="1.5"/><circle cx="586.1" cy="404.8" r="1.5"/><circle cx="586.5" cy="401.6" r="1.5"/><circle cx="586.7" cy="404.6" r="1.5"/><circle cx="587.5" cy="403.4" r="1.5"/><circle cx="587.1" cy="401.8" r="1.5"/><circle cx="587.5" cy="401.4" r="1.5"/><circle cx="588.2" cy="398.2" r="1.5"/><circle cx="588.6" cy="398.9" r="1.5"/><circle cx="590.5" cy="404.2" r="1.5"/><circle cx="589.7" cy="404.7" r="1.5"/><circle cx="589.3" cy="396.5" r="1.5"/><circle cx="590.7" cy="399.1" r="1.5"/><circle cx="590.7" cy="396.3" r="1.5"/><circle cx="591.9" cy="401.3" r="1.5"/><circle cx="591.9" cy="396.8" r="1.5"/><circle cx="592.7" cy="398.1" r="1.5"/><circle cx="593.0" cy="403.8" r="1.5"/><circle cx="594.0" cy="396.3" r="1.5"/><circle cx="593.8" cy="403.0" r="1.5"/><circle cx="595.0" cy="403.5" r="1.5"/><circle cx="594.7" cy="400.7" r="1.5"/><circle cx="594.6" cy="402.5" r="1.5"/><circle cx="594.9" cy="398.0" r="1.5"/><circle cx="596.8" cy="399.8" r="1.5"/><circle cx="596.1" cy="399.6" r="1.5"/><circle cx="597.0" cy="398.1" r="1.5"/><circle cx="597.5" cy="398.5" r="1.5"/><circle cx="597.8" cy="394.6" r="1.5"/><circle cx="597.8" cy="398.2" r="1.5"/><circle cx="598.5" cy="400.4" r="1.5"/><circle cx="598.9" cy="398.3" r="1.5"/><circle cx="600.2" cy="397.4" r="1.5"/><circle cx="600.3" cy="400.6" r="1.5"/><circle cx="600.0" cy="402.0" r="1.5"/><circle cx="600.9" cy="395.5" r="1.5"/><circle cx="601.0" cy="403.2" r="1.5"/><circle cx="601.8" cy="399.2" r="1.5"/><circle cx="602.0" cy="404.6" r="1.5"/><circle cx="602.6" cy="396.0" r="1.5"/><circle cx="602.5" cy="401.7" r="1.5"/><circle cx="603.5" cy="398.1" r="1.5"/><circle cx="603.9" cy="401.6" r="1.5"/><circle cx="604.2" cy="400.5" r="1.5"/><circle cx="605.0" cy="401.9" r="1.5"/><circle cx="605.1" cy="405.8" r="1.5"/><circle cx="605.8" cy="399.3" r="1.5"/><circle cx="606.3" cy="396.1" r="1.5"/><circle cx="606.5" cy="398.1" r="1.5"/><circle cx="607.2" cy="399.8" r="1.5"/><circle cx="607.8" cy="399.6" r="1.5"/><circle cx="607.6" cy="399.2" r="1.5"/><circle cx="607.7" cy="404.1" r="1.5"/><circle cx="608.9" cy="401.7" r="1.5"/><circle cx="609.9" cy="398.2" r="1.5"/><circle cx="609.0" cy="406.3" r="1.5"/><circle cx="609.5" cy="398.5" r="1.5"/><circle cx="610.4" cy="401.4" r="1.5"/><circle cx="610.4" cy="403.0" r="1.5"/><circle cx="611.0" cy="404.7" r="1.5"/><circle cx="612.2" cy="401.0" r="1.5"/><circle cx="612.0" cy="404.3" r="1.5"/><circle cx="612.5" cy="402.5" r="1.5"/><circle cx="613.0" cy="396.9" r="1.5"/><circle cx="613.7" cy="404.4" r="1.5"/><circle cx="614.1" cy="401.4" r="1.5"/><circle cx="614.5" cy="399.6" r="1.5"/><circle cx="613.9" cy="398.4" r="1.5"/><circle cx="614.6" cy="403.8" r="1.5"/><circle cx="615.3" cy="395.6" r="1.5"/><circle cx="616.5" cy="405.0" r="1.5"/><circle cx="616.2" cy="399.4" r="1.5"/><circle cx="616.6" cy="396.0" r="1.5"/><circle cx="617.0" cy="403.2" r="1.5"/><circle cx="617.6" cy="404.5" r="1.5"/><circle cx="619.1" cy="397.8" r="1.5"/><circle cx="618.8" cy="406.0" r="1.5"/><circle cx="619.0" cy="400.7" r="1.5"/><circle cx="619.1" cy="406.6" r="1.5"/><circle cx="619.0" cy="402.8" r="1.5"/><circle cx="620.0" cy="401.6" r="1.5"/><circle cx="621.0" cy="405.2" r="1.5"/><circle cx="621.0" cy="406.1" r="1.5"/><circle cx="621.1" cy="406.5" r="1.5"/><circle cx="622.7" cy="399.1" r="1.5"/><circle cx="622.3" cy="398.2" r="1.5"/><circle cx="623.3" cy="396.3" r="1.5"/><circle cx="623.3" cy="400.0" r="1.5"/><circle cx="623.6" cy="403.6" r="1.5"/><circle cx="624.6" cy="402.6" r="1.5"/><circle cx="625.3" cy="400.3" r="1.5"/><circle cx="624.8" cy="405.1" r="1.5"/><circle cx="625.3" cy="397.3" r="1.5"/><circle cx="626.2" cy="398.9" r="1.5"/><circle cx="626.9" cy="396.6" r="1.5"/><circle cx="626.8" cy="403.5" r="1.5"/><circle cx="626.9" cy="408.3" r="1.5"/><circle cx="628.1" cy="397.7" r="1.5"/><circle cx="627.9" cy="406.2" r="1.5"/><circle cx="628.5" cy="400.0" r="1.5"/><circle cx="628.7" cy="405.0" r="1.5"/><circle cx="628.8" cy="399.6" r="1.5"/><circle cx="629.3" cy="393.0" r="1.5"/><circle cx="630.2" cy="394.7" r="1.5"/><circle cx="630.0" cy="397.7" r="1.5"/><circle cx="630.2" cy="391.8" r="1.5"/><circle cx="631.2" cy="398.8" r="1.5"/><circle cx="631.7" cy="393.2" r="1.5"/><circle cx="632.0" cy="396.2" r="1.5"/><circle cx="632.7" cy="388.8" r="1.5"/><circle cx="632.5" cy="388.3" r="1.5"/><circle cx="633.2" cy="387.7" r="1.5"/><circle cx="633.1" cy="383.9" r="1.5"/><circle cx="633.4" cy="382.1" r="1.5"/><circle cx="633.8" cy="385.3" r="1.5"/><circle cx="635.0" cy="382.2" r="1.5"/><circle cx="634.2" cy="381.3" r="1.5"/><circle cx="635.0" cy="378.9" r="1.5"/><circle cx="635.0" cy="378.2" r="1.5"/><circle cx="635.3" cy="384.2" r="1.5"/><circle cx="636.0" cy="386.0" r="1.5"/><circle cx="636.2" cy="387.7" r="1.5"/><circle cx="636.8" cy="386.9" r="1.5"/><circle cx="636.3" cy="385.3" r="1.5"/><circle cx="636.8" cy="383.5" r="1.5"/><circle cx="637.4" cy="378.6" r="1.5"/><circle cx="637.2" cy="384.1" r="1.5"/><circle cx="637.4" cy="383.4" r="1.5"/><circle cx="637.5" cy="376.1" r="1.5"/><circle cx="639.1" cy="384.7" r="1.5"/><circle cx="639.7" cy="383.9" r="1.5"/><circle cx="639.6" cy="383.7" r="1.5"/><circle cx="640.2" cy="383.6" r="1.5"/><circle cx="639.5" cy="384.9" r="1.5"/><circle cx="639.9" cy="378.9" r="1.5"/><circle cx="640.7" cy="389.8" r="1.5"/><circle cx="640.5" cy="388.3" r="1.5"/><circle cx="641.8" cy="382.0" r="1.5"/><circle cx="641.8" cy="388.2" r="1.5"/><circle cx="642.8" cy="381.0" r="1.5"/><circle cx="642.0" cy="372.7" r="1.5"/><circle cx="643.3" cy="383.8" r="1.5"/><circle cx="642.3" cy="377.2" r="1.5"/><circle cx="643.0" cy="374.0" r="1.5"/><circle cx="644.3" cy="377.4" r="1.5"/><circle cx="644.8" cy="342.0" r="1.5"/><circle cx="645.5" cy="344.1" r="1.5"/><circle cx="645.8" cy="345.5" r="1.5"/><circle cx="643.7" cy="346.8" r="1.5"/><circle cx="646.4" cy="347.6" r="1.5"/><circle cx="647.1" cy="348.2" r="1.5"/><circle cx="649.6" cy="346.9" r="1.5"/><circle cx="647.7" cy="348.5" r="1.5"/><circle cx="648.2" cy="347.2" r="1.5"/><circle cx="647.9" cy="350.4" r="1.5"/><circle cx="647.2" cy="351.4" r="1.5"/><circle cx="646.4" cy="354.9" r="1.5"/><circle cx="649.8" cy="356.7" r="1.5"/><circle cx="648.0" cy="352.8" r="1.5"/><circle cx="650.2" cy="353.0" r="1.5"/><circle cx="650.4" cy="355.5" r="1.5"/><circle cx="649.8" cy="358.0" r="1.5"/><circle cx="650.7" cy="361.5" r="1.5"/><circle cx="651.9" cy="357.5" r="1.5"/><circle cx="652.8" cy="358.4" r="1.5"/><circle cx="651.7" cy="359.5" r="1.5"/><circle cx="650.5" cy="364.6" r="1.5"/><circle cx="651.3" cy="362.4" r="1.5"/><circle cx="651.6" cy="363.9" r="1.5"/><circle cx="646.5" cy="339.9" r="1.5"/><circle cx="647.0" cy="343.6" r="1.5"/><circle cx="645.8" cy="347.4" r="1.5"/><circle cx="644.5" cy="351.0" r="1.5"/><circle cx="648.3" cy="352.3" r="1.5"/><circle cx="650.7" cy="354.8" r="1.5"/><circle cx="652.0" cy="351.0" r="1.5"/><circle cx="649.5" cy="358.5" r="1.5"/><circle cx="644.5" cy="359.8" r="1.5"/><circle cx="652.0" cy="362.2" r="1.5"/><circle cx="653.2" cy="364.7" r="1.5"/><circle cx="654.0" cy="366.0" r="1.5"/><circle cx="656.7" cy="374.6" r="1.5"/><circle cx="653.8" cy="378.3" r="1.5"/><circle cx="653.6" cy="378.9" r="1.5"/><circle cx="657.1" cy="381.1" r="1.5"/><circle cx="655.4" cy="381.9" r="1.5"/><circle cx="655.2" cy="383.8" r="1.5"/><circle cx="656.7" cy="387.7" r="1.5"/><circle cx="657.9" cy="387.2" r="1.5"/><circle cx="656.2" cy="390.4" r="1.5"/><circle cx="655.2" cy="390.8" r="1.5"/><circle cx="657.2" cy="391.7" r="1.5"/><circle cx="656.7" cy="395.1" r="1.5"/><circle cx="656.2" cy="395.3" r="1.5"/><circle cx="657.6" cy="398.2" r="1.5"/><circle cx="657.0" cy="401.1" r="1.5"/><circle cx="658.5" cy="401.2" r="1.5"/><circle cx="658.7" cy="402.4" r="1.5"/><circle cx="658.3" cy="406.3" r="1.5"/><circle cx="661.1" cy="417.4" r="1.5"/><circle cx="662.0" cy="418.6" r="1.5"/><circle cx="662.1" cy="420.8" r="1.5"/><circle cx="661.3" cy="423.0" r="1.5"/><circle cx="661.3" cy="424.6" r="1.5"/><circle cx="662.0" cy="426.1" r="1.5"/><circle cx="663.9" cy="427.8" r="1.5"/><circle cx="664.0" cy="438.4" r="1.5"/><circle cx="664.6" cy="438.5" r="1.5"/><circle cx="664.5" cy="440.3" r="1.5"/><circle cx="666.0" cy="439.9" r="1.5"/><circle cx="666.0" cy="442.4" r="1.5"/><circle cx="666.5" cy="442.3" r="1.5"/></g>
<rect x="513.4" y="316.1" width="167.4" height="128.6" fill="none" stroke="rgba(40,36,60,0.45)" stroke-width="1.0"/>
<text x="513.4" y="454.7" font-size="8.7" font-family="'Liberation Sans', sans-serif" text-anchor="middle">0</text>
<text x="546.9" y="454.7" font-size="8.7" font-family="'Liberation Sans', sans-serif" text-anchor="middle">10</text>
<text x="580.4" y="454.7" font-size="8.7" font-family="'Liberation Sans', sans-serif" text-anchor="middle">20</text>
<text x="613.8" y="454.7" font-size="8.7" font-family="'Liberation Sans', sans-serif" text-anchor="middle">30</text>
<text x="647.3" y="454.7" font-size="8.7" font-family="'Liberation Sans', sans-serif" text-anchor="middle">40</text>
<text x="680.8" y="454.7" font-size="8.7" font-family="'Liberation Sans', sans-serif" text-anchor="middle">50</text>
<text x="510.6" y="435.9" font-size="8.7" font-family="'Liberation Sans', sans-serif" text-anchor="end">250</text>
<text x="510.6" y="412.5" font-size="8.7" font-family="'Liberation Sans', sans-serif" text-anchor="end">300</text>
<text x="510.6" y="389.1" font-size="8.7" font-family="'Liberation Sans', sans-serif" text-anchor="end">350</text>
<text x="510.6" y="365.7" font-size="8.7" font-family="'Liberation Sans', sans-serif" text-anchor="end">400</text>
<text x="510.6" y="342.3" font-size="8.7" font-family="'Liberation Sans', sans-serif" text-anchor="end">450</text>
<text x="510.6" y="319" font-size="8.7" font-family="'Liberation Sans', sans-serif" text-anchor="end">500</text>
<text x="560.4" y="309.1" font-size="11" font-family="'Liberation Serif', serif" textLength="68.7" lengthAdjust="spacingAndGlyphs">Heating, 60 μm</text>
<text x="580.8" y="333.1" font-size="9.1" font-family="'Liberation Serif', serif" font-weight="bold" textLength="26.6" lengthAdjust="spacingAndGlyphs" stroke="#000" stroke-width="0.3">N - Iso</text>
<text x="538.6" y="466.6" font-size="10.0" font-family="'Liberation Sans', sans-serif" textLength="117.0" lengthAdjust="spacingAndGlyphs">Time of N - I coexistence, s</text>
<text transform="translate(486.3,375.5) rotate(-90)" x="0" y="0" font-size="10.2" font-family="'Liberation Sans', sans-serif" text-anchor="middle" textLength="102.6" lengthAdjust="spacingAndGlyphs">Structural heterogeneity</text>
</svg>
</body></html>
